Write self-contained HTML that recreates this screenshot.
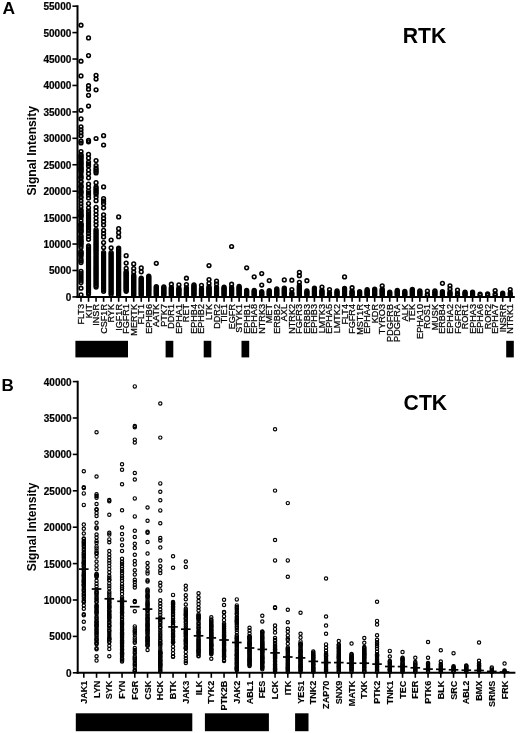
<!DOCTYPE html>
<html><head><meta charset="utf-8"><style>
html,body{margin:0;padding:0;background:#fff;}
svg{display:block;filter:grayscale(100%);}
text{font-family:"Liberation Sans", sans-serif;fill:#000;}
</style></head><body>
<svg width="520" height="733" viewBox="0 0 520 733">
<rect width="520" height="733" fill="#fff"/>
<text x="2.4" y="14.3" font-size="17.4" font-weight="bold">A</text>
<text x="402.8" y="42.8" font-size="21.2" font-weight="bold">RTK</text>
<text x="1.5" y="391.3" font-size="17" font-weight="bold">B</text>
<text x="403.6" y="409.6" font-size="21.2" font-weight="bold">CTK</text>
<text transform="translate(36.3,150.8) rotate(-90)" text-anchor="middle" font-size="12.1" font-weight="bold">Signal Intensity</text>
<text transform="translate(36.4,526.9) rotate(-90)" text-anchor="middle" font-size="12" font-weight="bold">Signal Intensity</text>
<line x1="77.5" y1="5.2" x2="77.5" y2="297.9" stroke="#000" stroke-width="2"/>
<line x1="76.5" y1="296.9" x2="514.8" y2="296.9" stroke="#000" stroke-width="2"/>
<line x1="72.4" y1="296.90" x2="77.5" y2="296.90" stroke="#000" stroke-width="1.6"/>
<text x="71.3" y="300.90" text-anchor="end" font-size="10" font-weight="bold" stroke="#000" stroke-width="0.2">0</text>
<line x1="72.4" y1="270.47" x2="77.5" y2="270.47" stroke="#000" stroke-width="1.6"/>
<text x="71.3" y="274.47" text-anchor="end" font-size="10" font-weight="bold" stroke="#000" stroke-width="0.2">5000</text>
<line x1="72.4" y1="244.04" x2="77.5" y2="244.04" stroke="#000" stroke-width="1.6"/>
<text x="71.3" y="248.04" text-anchor="end" font-size="10" font-weight="bold" stroke="#000" stroke-width="0.2">10000</text>
<line x1="72.4" y1="217.61" x2="77.5" y2="217.61" stroke="#000" stroke-width="1.6"/>
<text x="71.3" y="221.61" text-anchor="end" font-size="10" font-weight="bold" stroke="#000" stroke-width="0.2">15000</text>
<line x1="72.4" y1="191.18" x2="77.5" y2="191.18" stroke="#000" stroke-width="1.6"/>
<text x="71.3" y="195.18" text-anchor="end" font-size="10" font-weight="bold" stroke="#000" stroke-width="0.2">20000</text>
<line x1="72.4" y1="164.75" x2="77.5" y2="164.75" stroke="#000" stroke-width="1.6"/>
<text x="71.3" y="168.75" text-anchor="end" font-size="10" font-weight="bold" stroke="#000" stroke-width="0.2">25000</text>
<line x1="72.4" y1="138.32" x2="77.5" y2="138.32" stroke="#000" stroke-width="1.6"/>
<text x="71.3" y="142.32" text-anchor="end" font-size="10" font-weight="bold" stroke="#000" stroke-width="0.2">30000</text>
<line x1="72.4" y1="111.89" x2="77.5" y2="111.89" stroke="#000" stroke-width="1.6"/>
<text x="71.3" y="115.89" text-anchor="end" font-size="10" font-weight="bold" stroke="#000" stroke-width="0.2">35000</text>
<line x1="72.4" y1="85.46" x2="77.5" y2="85.46" stroke="#000" stroke-width="1.6"/>
<text x="71.3" y="89.46" text-anchor="end" font-size="10" font-weight="bold" stroke="#000" stroke-width="0.2">40000</text>
<line x1="72.4" y1="59.03" x2="77.5" y2="59.03" stroke="#000" stroke-width="1.6"/>
<text x="71.3" y="63.03" text-anchor="end" font-size="10" font-weight="bold" stroke="#000" stroke-width="0.2">45000</text>
<line x1="72.4" y1="32.60" x2="77.5" y2="32.60" stroke="#000" stroke-width="1.6"/>
<text x="71.3" y="36.60" text-anchor="end" font-size="10" font-weight="bold" stroke="#000" stroke-width="0.2">50000</text>
<line x1="72.4" y1="6.17" x2="77.5" y2="6.17" stroke="#000" stroke-width="1.6"/>
<text x="71.3" y="10.17" text-anchor="end" font-size="10" font-weight="bold" stroke="#000" stroke-width="0.2">55000</text>
<line x1="81.00" y1="296.9" x2="81.00" y2="301.8" stroke="#000" stroke-width="1.6"/>
<text transform="translate(84.00,304) rotate(-90)" text-anchor="end" font-size="9.1" stroke="#000" stroke-width="0.25">FLT3</text>
<line x1="88.53" y1="296.9" x2="88.53" y2="301.8" stroke="#000" stroke-width="1.6"/>
<text transform="translate(91.53,304) rotate(-90)" text-anchor="end" font-size="9.1" stroke="#000" stroke-width="0.25">KIT</text>
<line x1="96.06" y1="296.9" x2="96.06" y2="301.8" stroke="#000" stroke-width="1.6"/>
<text transform="translate(99.06,304) rotate(-90)" text-anchor="end" font-size="9.1" stroke="#000" stroke-width="0.25">INSR</text>
<line x1="103.59" y1="296.9" x2="103.59" y2="301.8" stroke="#000" stroke-width="1.6"/>
<text transform="translate(106.59,304) rotate(-90)" text-anchor="end" font-size="9.1" stroke="#000" stroke-width="0.25">CSF1R</text>
<line x1="111.12" y1="296.9" x2="111.12" y2="301.8" stroke="#000" stroke-width="1.6"/>
<text transform="translate(114.12,304) rotate(-90)" text-anchor="end" font-size="9.1" stroke="#000" stroke-width="0.25">RYK</text>
<line x1="118.65" y1="296.9" x2="118.65" y2="301.8" stroke="#000" stroke-width="1.6"/>
<text transform="translate(121.65,304) rotate(-90)" text-anchor="end" font-size="9.1" stroke="#000" stroke-width="0.25">IGF1R</text>
<line x1="126.18" y1="296.9" x2="126.18" y2="301.8" stroke="#000" stroke-width="1.6"/>
<text transform="translate(129.18,304) rotate(-90)" text-anchor="end" font-size="9.1" stroke="#000" stroke-width="0.25">FGFR1</text>
<line x1="133.71" y1="296.9" x2="133.71" y2="301.8" stroke="#000" stroke-width="1.6"/>
<text transform="translate(136.71,304) rotate(-90)" text-anchor="end" font-size="9.1" stroke="#000" stroke-width="0.25">MERTK</text>
<line x1="141.24" y1="296.9" x2="141.24" y2="301.8" stroke="#000" stroke-width="1.6"/>
<text transform="translate(144.24,304) rotate(-90)" text-anchor="end" font-size="9.1" stroke="#000" stroke-width="0.25">FLT1</text>
<line x1="148.77" y1="296.9" x2="148.77" y2="301.8" stroke="#000" stroke-width="1.6"/>
<text transform="translate(151.77,304) rotate(-90)" text-anchor="end" font-size="9.1" stroke="#000" stroke-width="0.25">EPHB6</text>
<line x1="156.30" y1="296.9" x2="156.30" y2="301.8" stroke="#000" stroke-width="1.6"/>
<text transform="translate(159.30,304) rotate(-90)" text-anchor="end" font-size="9.1" stroke="#000" stroke-width="0.25">AATK</text>
<line x1="163.83" y1="296.9" x2="163.83" y2="301.8" stroke="#000" stroke-width="1.6"/>
<text transform="translate(166.83,304) rotate(-90)" text-anchor="end" font-size="9.1" stroke="#000" stroke-width="0.25">PTK7</text>
<line x1="171.36" y1="296.9" x2="171.36" y2="301.8" stroke="#000" stroke-width="1.6"/>
<text transform="translate(174.36,304) rotate(-90)" text-anchor="end" font-size="9.1" stroke="#000" stroke-width="0.25">DDR1</text>
<line x1="178.89" y1="296.9" x2="178.89" y2="301.8" stroke="#000" stroke-width="1.6"/>
<text transform="translate(181.89,304) rotate(-90)" text-anchor="end" font-size="9.1" stroke="#000" stroke-width="0.25">EPHA1</text>
<line x1="186.42" y1="296.9" x2="186.42" y2="301.8" stroke="#000" stroke-width="1.6"/>
<text transform="translate(189.42,304) rotate(-90)" text-anchor="end" font-size="9.1" stroke="#000" stroke-width="0.25">RET</text>
<line x1="193.95" y1="296.9" x2="193.95" y2="301.8" stroke="#000" stroke-width="1.6"/>
<text transform="translate(196.95,304) rotate(-90)" text-anchor="end" font-size="9.1" stroke="#000" stroke-width="0.25">EPHB4</text>
<line x1="201.48" y1="296.9" x2="201.48" y2="301.8" stroke="#000" stroke-width="1.6"/>
<text transform="translate(204.48,304) rotate(-90)" text-anchor="end" font-size="9.1" stroke="#000" stroke-width="0.25">EPHB2</text>
<line x1="209.01" y1="296.9" x2="209.01" y2="301.8" stroke="#000" stroke-width="1.6"/>
<text transform="translate(212.01,304) rotate(-90)" text-anchor="end" font-size="9.1" stroke="#000" stroke-width="0.25">LTK</text>
<line x1="216.54" y1="296.9" x2="216.54" y2="301.8" stroke="#000" stroke-width="1.6"/>
<text transform="translate(219.54,304) rotate(-90)" text-anchor="end" font-size="9.1" stroke="#000" stroke-width="0.25">DDR2</text>
<line x1="224.07" y1="296.9" x2="224.07" y2="301.8" stroke="#000" stroke-width="1.6"/>
<text transform="translate(227.07,304) rotate(-90)" text-anchor="end" font-size="9.1" stroke="#000" stroke-width="0.25">TIE1</text>
<line x1="231.60" y1="296.9" x2="231.60" y2="301.8" stroke="#000" stroke-width="1.6"/>
<text transform="translate(234.60,304) rotate(-90)" text-anchor="end" font-size="9.1" stroke="#000" stroke-width="0.25">EGFR</text>
<line x1="239.13" y1="296.9" x2="239.13" y2="301.8" stroke="#000" stroke-width="1.6"/>
<text transform="translate(242.13,304) rotate(-90)" text-anchor="end" font-size="9.1" stroke="#000" stroke-width="0.25">STYK1</text>
<line x1="246.66" y1="296.9" x2="246.66" y2="301.8" stroke="#000" stroke-width="1.6"/>
<text transform="translate(249.66,304) rotate(-90)" text-anchor="end" font-size="9.1" stroke="#000" stroke-width="0.25">EPHB1</text>
<line x1="254.19" y1="296.9" x2="254.19" y2="301.8" stroke="#000" stroke-width="1.6"/>
<text transform="translate(257.19,304) rotate(-90)" text-anchor="end" font-size="9.1" stroke="#000" stroke-width="0.25">EPHA8</text>
<line x1="261.72" y1="296.9" x2="261.72" y2="301.8" stroke="#000" stroke-width="1.6"/>
<text transform="translate(264.72,304) rotate(-90)" text-anchor="end" font-size="9.1" stroke="#000" stroke-width="0.25">NTRK3</text>
<line x1="269.25" y1="296.9" x2="269.25" y2="301.8" stroke="#000" stroke-width="1.6"/>
<text transform="translate(272.25,304) rotate(-90)" text-anchor="end" font-size="9.1" stroke="#000" stroke-width="0.25">MET</text>
<line x1="276.78" y1="296.9" x2="276.78" y2="301.8" stroke="#000" stroke-width="1.6"/>
<text transform="translate(279.78,304) rotate(-90)" text-anchor="end" font-size="9.1" stroke="#000" stroke-width="0.25">ERBB2</text>
<line x1="284.31" y1="296.9" x2="284.31" y2="301.8" stroke="#000" stroke-width="1.6"/>
<text transform="translate(287.31,304) rotate(-90)" text-anchor="end" font-size="9.1" stroke="#000" stroke-width="0.25">AXL</text>
<line x1="291.84" y1="296.9" x2="291.84" y2="301.8" stroke="#000" stroke-width="1.6"/>
<text transform="translate(294.84,304) rotate(-90)" text-anchor="end" font-size="9.1" stroke="#000" stroke-width="0.25">NTRK2</text>
<line x1="299.37" y1="296.9" x2="299.37" y2="301.8" stroke="#000" stroke-width="1.6"/>
<text transform="translate(302.37,304) rotate(-90)" text-anchor="end" font-size="9.1" stroke="#000" stroke-width="0.25">FGFR3</text>
<line x1="306.90" y1="296.9" x2="306.90" y2="301.8" stroke="#000" stroke-width="1.6"/>
<text transform="translate(309.90,304) rotate(-90)" text-anchor="end" font-size="9.1" stroke="#000" stroke-width="0.25">ERBB3</text>
<line x1="314.43" y1="296.9" x2="314.43" y2="301.8" stroke="#000" stroke-width="1.6"/>
<text transform="translate(317.43,304) rotate(-90)" text-anchor="end" font-size="9.1" stroke="#000" stroke-width="0.25">EPHB3</text>
<line x1="321.96" y1="296.9" x2="321.96" y2="301.8" stroke="#000" stroke-width="1.6"/>
<text transform="translate(324.96,304) rotate(-90)" text-anchor="end" font-size="9.1" stroke="#000" stroke-width="0.25">LMTK3</text>
<line x1="329.49" y1="296.9" x2="329.49" y2="301.8" stroke="#000" stroke-width="1.6"/>
<text transform="translate(332.49,304) rotate(-90)" text-anchor="end" font-size="9.1" stroke="#000" stroke-width="0.25">EPHA5</text>
<line x1="337.02" y1="296.9" x2="337.02" y2="301.8" stroke="#000" stroke-width="1.6"/>
<text transform="translate(340.02,304) rotate(-90)" text-anchor="end" font-size="9.1" stroke="#000" stroke-width="0.25">LMTK2</text>
<line x1="344.55" y1="296.9" x2="344.55" y2="301.8" stroke="#000" stroke-width="1.6"/>
<text transform="translate(347.55,304) rotate(-90)" text-anchor="end" font-size="9.1" stroke="#000" stroke-width="0.25">FLT4</text>
<line x1="352.08" y1="296.9" x2="352.08" y2="301.8" stroke="#000" stroke-width="1.6"/>
<text transform="translate(355.08,304) rotate(-90)" text-anchor="end" font-size="9.1" stroke="#000" stroke-width="0.25">FGFR4</text>
<line x1="359.61" y1="296.9" x2="359.61" y2="301.8" stroke="#000" stroke-width="1.6"/>
<text transform="translate(362.61,304) rotate(-90)" text-anchor="end" font-size="9.1" stroke="#000" stroke-width="0.25">MST1R</text>
<line x1="367.14" y1="296.9" x2="367.14" y2="301.8" stroke="#000" stroke-width="1.6"/>
<text transform="translate(370.14,304) rotate(-90)" text-anchor="end" font-size="9.1" stroke="#000" stroke-width="0.25">EPHA4</text>
<line x1="374.67" y1="296.9" x2="374.67" y2="301.8" stroke="#000" stroke-width="1.6"/>
<text transform="translate(377.67,304) rotate(-90)" text-anchor="end" font-size="9.1" stroke="#000" stroke-width="0.25">KDR</text>
<line x1="382.20" y1="296.9" x2="382.20" y2="301.8" stroke="#000" stroke-width="1.6"/>
<text transform="translate(385.20,304) rotate(-90)" text-anchor="end" font-size="9.1" stroke="#000" stroke-width="0.25">TYRO3</text>
<line x1="389.73" y1="296.9" x2="389.73" y2="301.8" stroke="#000" stroke-width="1.6"/>
<text transform="translate(392.73,304) rotate(-90)" text-anchor="end" font-size="9.1" stroke="#000" stroke-width="0.25">PDGFRB</text>
<line x1="397.26" y1="296.9" x2="397.26" y2="301.8" stroke="#000" stroke-width="1.6"/>
<text transform="translate(400.26,304) rotate(-90)" text-anchor="end" font-size="9.1" stroke="#000" stroke-width="0.25">PDGFRA</text>
<line x1="404.79" y1="296.9" x2="404.79" y2="301.8" stroke="#000" stroke-width="1.6"/>
<text transform="translate(407.79,304) rotate(-90)" text-anchor="end" font-size="9.1" stroke="#000" stroke-width="0.25">ALK</text>
<line x1="412.32" y1="296.9" x2="412.32" y2="301.8" stroke="#000" stroke-width="1.6"/>
<text transform="translate(415.32,304) rotate(-90)" text-anchor="end" font-size="9.1" stroke="#000" stroke-width="0.25">TEK</text>
<line x1="419.85" y1="296.9" x2="419.85" y2="301.8" stroke="#000" stroke-width="1.6"/>
<text transform="translate(422.85,304) rotate(-90)" text-anchor="end" font-size="9.1" stroke="#000" stroke-width="0.25">EPHA10</text>
<line x1="427.38" y1="296.9" x2="427.38" y2="301.8" stroke="#000" stroke-width="1.6"/>
<text transform="translate(430.38,304) rotate(-90)" text-anchor="end" font-size="9.1" stroke="#000" stroke-width="0.25">ROS1</text>
<line x1="434.91" y1="296.9" x2="434.91" y2="301.8" stroke="#000" stroke-width="1.6"/>
<text transform="translate(437.91,304) rotate(-90)" text-anchor="end" font-size="9.1" stroke="#000" stroke-width="0.25">MUSK</text>
<line x1="442.44" y1="296.9" x2="442.44" y2="301.8" stroke="#000" stroke-width="1.6"/>
<text transform="translate(445.44,304) rotate(-90)" text-anchor="end" font-size="9.1" stroke="#000" stroke-width="0.25">ERBB4</text>
<line x1="449.97" y1="296.9" x2="449.97" y2="301.8" stroke="#000" stroke-width="1.6"/>
<text transform="translate(452.97,304) rotate(-90)" text-anchor="end" font-size="9.1" stroke="#000" stroke-width="0.25">EPHA2</text>
<line x1="457.50" y1="296.9" x2="457.50" y2="301.8" stroke="#000" stroke-width="1.6"/>
<text transform="translate(460.50,304) rotate(-90)" text-anchor="end" font-size="9.1" stroke="#000" stroke-width="0.25">FGFR2</text>
<line x1="465.03" y1="296.9" x2="465.03" y2="301.8" stroke="#000" stroke-width="1.6"/>
<text transform="translate(468.03,304) rotate(-90)" text-anchor="end" font-size="9.1" stroke="#000" stroke-width="0.25">ROR1</text>
<line x1="472.56" y1="296.9" x2="472.56" y2="301.8" stroke="#000" stroke-width="1.6"/>
<text transform="translate(475.56,304) rotate(-90)" text-anchor="end" font-size="9.1" stroke="#000" stroke-width="0.25">EPHA3</text>
<line x1="480.09" y1="296.9" x2="480.09" y2="301.8" stroke="#000" stroke-width="1.6"/>
<text transform="translate(483.09,304) rotate(-90)" text-anchor="end" font-size="9.1" stroke="#000" stroke-width="0.25">EPHA6</text>
<line x1="487.62" y1="296.9" x2="487.62" y2="301.8" stroke="#000" stroke-width="1.6"/>
<text transform="translate(490.62,304) rotate(-90)" text-anchor="end" font-size="9.1" stroke="#000" stroke-width="0.25">ROR2</text>
<line x1="495.15" y1="296.9" x2="495.15" y2="301.8" stroke="#000" stroke-width="1.6"/>
<text transform="translate(498.15,304) rotate(-90)" text-anchor="end" font-size="9.1" stroke="#000" stroke-width="0.25">EPHA7</text>
<line x1="502.68" y1="296.9" x2="502.68" y2="301.8" stroke="#000" stroke-width="1.6"/>
<text transform="translate(505.68,304) rotate(-90)" text-anchor="end" font-size="9.1" stroke="#000" stroke-width="0.25">INSRR</text>
<line x1="510.21" y1="296.9" x2="510.21" y2="301.8" stroke="#000" stroke-width="1.6"/>
<text transform="translate(513.21,304) rotate(-90)" text-anchor="end" font-size="9.1" stroke="#000" stroke-width="0.25">NTRK1</text>
<g fill="none" stroke="#000" stroke-width="1.55">
<circle cx="81.00" cy="25.20" r="1.85"/>
<circle cx="81.00" cy="61.20" r="1.85"/>
<circle cx="81.00" cy="75.90" r="1.85"/>
<circle cx="81.00" cy="110.30" r="1.85"/>
<circle cx="81.00" cy="118.90" r="1.85"/>
<circle cx="81.00" cy="126.80" r="1.85"/>
<circle cx="81.00" cy="129.80" r="1.85"/>
<circle cx="81.00" cy="132.80" r="1.85"/>
<circle cx="81.00" cy="135.80" r="1.85"/>
<circle cx="81.00" cy="141.20" r="1.85"/>
<circle cx="81.00" cy="143.00" r="1.85"/>
<circle cx="81.00" cy="151.50" r="1.85"/>
<circle cx="81.00" cy="154.50" r="1.85"/>
<circle cx="81.00" cy="155.50" r="1.85"/>
<circle cx="81.00" cy="156.80" r="1.85"/>
<circle cx="81.00" cy="157.80" r="1.85"/>
<circle cx="81.00" cy="159.40" r="1.85"/>
<circle cx="81.00" cy="161.00" r="1.85"/>
<circle cx="81.00" cy="162.40" r="1.85"/>
<circle cx="81.00" cy="163.70" r="1.85"/>
<circle cx="81.00" cy="165.10" r="1.85"/>
<circle cx="81.00" cy="166.70" r="1.85"/>
<circle cx="81.00" cy="168.10" r="1.85"/>
<circle cx="81.00" cy="168.90" r="1.85"/>
<circle cx="81.00" cy="170.10" r="1.85"/>
<circle cx="81.00" cy="171.10" r="1.85"/>
<circle cx="81.00" cy="172.70" r="1.85"/>
<circle cx="81.00" cy="175.70" r="1.85"/>
<circle cx="81.00" cy="177.30" r="1.85"/>
<circle cx="81.00" cy="178.30" r="1.85"/>
<circle cx="81.00" cy="181.30" r="1.85"/>
<circle cx="81.00" cy="182.30" r="1.85"/>
<circle cx="81.00" cy="185.30" r="1.85"/>
<circle cx="81.00" cy="186.50" r="1.85"/>
<circle cx="81.00" cy="187.70" r="1.85"/>
<circle cx="81.00" cy="190.70" r="1.85"/>
<circle cx="81.00" cy="192.00" r="1.85"/>
<circle cx="81.00" cy="193.40" r="1.85"/>
<circle cx="81.00" cy="196.40" r="1.85"/>
<circle cx="81.00" cy="197.80" r="1.85"/>
<circle cx="81.00" cy="200.80" r="1.85"/>
<circle cx="81.00" cy="203.80" r="1.85"/>
<circle cx="81.00" cy="206.80" r="1.85"/>
<circle cx="81.00" cy="209.80" r="1.85"/>
<circle cx="81.00" cy="211.10" r="1.85"/>
<circle cx="81.00" cy="212.70" r="1.85"/>
<circle cx="81.00" cy="214.30" r="1.85"/>
<circle cx="81.00" cy="215.30" r="1.85"/>
<circle cx="81.00" cy="216.10" r="1.85"/>
<circle cx="81.00" cy="217.40" r="1.85"/>
<circle cx="81.00" cy="220.40" r="1.85"/>
<circle cx="81.00" cy="223.40" r="1.85"/>
<circle cx="81.00" cy="224.40" r="1.85"/>
<circle cx="81.00" cy="225.20" r="1.85"/>
<circle cx="81.00" cy="226.20" r="1.85"/>
<circle cx="81.00" cy="227.40" r="1.85"/>
<circle cx="81.00" cy="229.00" r="1.85"/>
<circle cx="81.00" cy="230.40" r="1.85"/>
<circle cx="81.00" cy="231.20" r="1.85"/>
<circle cx="81.00" cy="232.50" r="1.85"/>
<circle cx="81.00" cy="235.50" r="1.85"/>
<circle cx="81.00" cy="236.80" r="1.85"/>
<circle cx="81.00" cy="238.40" r="1.85"/>
<circle cx="81.00" cy="240.00" r="1.85"/>
<circle cx="81.00" cy="241.20" r="1.85"/>
<circle cx="81.00" cy="242.40" r="1.85"/>
<circle cx="81.00" cy="243.80" r="1.85"/>
<circle cx="81.00" cy="245.20" r="1.85"/>
<circle cx="81.00" cy="247.30" r="1.85"/>
<circle cx="81.00" cy="251.40" r="1.85"/>
<circle cx="81.00" cy="252.40" r="1.85"/>
<circle cx="81.00" cy="253.70" r="1.85"/>
<circle cx="81.00" cy="254.70" r="1.85"/>
<circle cx="81.00" cy="256.20" r="1.85"/>
<circle cx="81.00" cy="259.20" r="1.85"/>
<circle cx="81.00" cy="260.80" r="1.85"/>
<circle cx="81.00" cy="262.60" r="1.85"/>
<circle cx="81.00" cy="271.30" r="1.85"/>
<circle cx="81.00" cy="273.60" r="1.85"/>
<circle cx="81.00" cy="275.85" r="1.85"/>
<circle cx="81.00" cy="278.10" r="1.85"/>
<circle cx="81.00" cy="280.35" r="1.85"/>
<circle cx="81.00" cy="282.60" r="1.85"/>
<circle cx="81.00" cy="288.20" r="1.85"/>
<circle cx="81.00" cy="294.80" r="1.85"/>
<circle cx="88.53" cy="37.90" r="1.85"/>
<circle cx="88.53" cy="55.60" r="1.85"/>
<circle cx="88.53" cy="85.70" r="1.85"/>
<circle cx="88.53" cy="89.20" r="1.85"/>
<circle cx="88.53" cy="95.30" r="1.85"/>
<circle cx="88.53" cy="106.00" r="1.85"/>
<circle cx="88.53" cy="140.40" r="1.85"/>
<circle cx="88.53" cy="141.80" r="1.85"/>
<circle cx="88.53" cy="154.40" r="1.85"/>
<circle cx="88.53" cy="158.10" r="1.85"/>
<circle cx="88.53" cy="162.00" r="1.85"/>
<circle cx="88.53" cy="164.00" r="1.85"/>
<circle cx="88.53" cy="166.00" r="1.85"/>
<circle cx="88.53" cy="170.00" r="1.85"/>
<circle cx="88.53" cy="173.70" r="1.85"/>
<circle cx="88.53" cy="177.80" r="1.85"/>
<circle cx="88.53" cy="184.00" r="1.85"/>
<circle cx="88.53" cy="187.60" r="1.85"/>
<circle cx="88.53" cy="191.00" r="1.85"/>
<circle cx="88.53" cy="193.00" r="1.85"/>
<circle cx="88.53" cy="195.00" r="1.85"/>
<circle cx="88.53" cy="198.00" r="1.85"/>
<circle cx="88.53" cy="203.60" r="1.85"/>
<circle cx="88.53" cy="207.80" r="1.85"/>
<circle cx="88.53" cy="211.00" r="1.85"/>
<circle cx="88.53" cy="212.55" r="1.85"/>
<circle cx="88.53" cy="214.09" r="1.85"/>
<circle cx="88.53" cy="215.64" r="1.85"/>
<circle cx="88.53" cy="217.18" r="1.85"/>
<circle cx="88.53" cy="218.73" r="1.85"/>
<circle cx="88.53" cy="220.28" r="1.85"/>
<circle cx="88.53" cy="221.82" r="1.85"/>
<circle cx="88.53" cy="223.37" r="1.85"/>
<circle cx="88.53" cy="224.92" r="1.85"/>
<circle cx="88.53" cy="226.46" r="1.85"/>
<circle cx="88.53" cy="228.01" r="1.85"/>
<circle cx="88.53" cy="229.55" r="1.85"/>
<circle cx="88.53" cy="231.10" r="1.85"/>
<circle cx="88.53" cy="233.60" r="1.85"/>
<circle cx="88.53" cy="236.50" r="1.85"/>
<circle cx="88.53" cy="239.30" r="1.85"/>
<circle cx="88.53" cy="245.90" r="1.85"/>
<circle cx="88.53" cy="247.40" r="1.85"/>
<circle cx="88.53" cy="248.91" r="1.85"/>
<circle cx="88.53" cy="250.41" r="1.85"/>
<circle cx="88.53" cy="251.91" r="1.85"/>
<circle cx="88.53" cy="253.42" r="1.85"/>
<circle cx="88.53" cy="254.92" r="1.85"/>
<circle cx="88.53" cy="256.42" r="1.85"/>
<circle cx="88.53" cy="257.93" r="1.85"/>
<circle cx="88.53" cy="259.43" r="1.85"/>
<circle cx="88.53" cy="260.93" r="1.85"/>
<circle cx="88.53" cy="262.43" r="1.85"/>
<circle cx="88.53" cy="263.94" r="1.85"/>
<circle cx="88.53" cy="265.44" r="1.85"/>
<circle cx="88.53" cy="266.94" r="1.85"/>
<circle cx="88.53" cy="268.45" r="1.85"/>
<circle cx="88.53" cy="269.95" r="1.85"/>
<circle cx="88.53" cy="271.45" r="1.85"/>
<circle cx="88.53" cy="272.96" r="1.85"/>
<circle cx="88.53" cy="274.46" r="1.85"/>
<circle cx="88.53" cy="275.96" r="1.85"/>
<circle cx="88.53" cy="277.47" r="1.85"/>
<circle cx="88.53" cy="278.97" r="1.85"/>
<circle cx="88.53" cy="280.47" r="1.85"/>
<circle cx="88.53" cy="281.98" r="1.85"/>
<circle cx="88.53" cy="283.48" r="1.85"/>
<circle cx="88.53" cy="284.98" r="1.85"/>
<circle cx="88.53" cy="286.48" r="1.85"/>
<circle cx="88.53" cy="287.99" r="1.85"/>
<circle cx="88.53" cy="289.49" r="1.85"/>
<circle cx="88.53" cy="290.99" r="1.85"/>
<circle cx="88.53" cy="292.50" r="1.85"/>
<circle cx="88.53" cy="294.00" r="1.85"/>
<circle cx="96.06" cy="75.30" r="1.85"/>
<circle cx="96.06" cy="79.00" r="1.85"/>
<circle cx="96.06" cy="89.80" r="1.85"/>
<circle cx="96.06" cy="138.50" r="1.85"/>
<circle cx="96.06" cy="160.60" r="1.85"/>
<circle cx="96.06" cy="165.50" r="1.85"/>
<circle cx="96.06" cy="168.00" r="1.85"/>
<circle cx="96.06" cy="169.63" r="1.85"/>
<circle cx="96.06" cy="171.27" r="1.85"/>
<circle cx="96.06" cy="172.90" r="1.85"/>
<circle cx="96.06" cy="182.70" r="1.85"/>
<circle cx="96.06" cy="186.80" r="1.85"/>
<circle cx="96.06" cy="188.28" r="1.85"/>
<circle cx="96.06" cy="189.76" r="1.85"/>
<circle cx="96.06" cy="191.24" r="1.85"/>
<circle cx="96.06" cy="192.72" r="1.85"/>
<circle cx="96.06" cy="194.20" r="1.85"/>
<circle cx="96.06" cy="197.00" r="1.85"/>
<circle cx="96.06" cy="200.70" r="1.85"/>
<circle cx="96.06" cy="207.40" r="1.85"/>
<circle cx="96.06" cy="210.90" r="1.85"/>
<circle cx="96.06" cy="214.50" r="1.85"/>
<circle cx="96.06" cy="218.00" r="1.85"/>
<circle cx="96.06" cy="221.70" r="1.85"/>
<circle cx="96.06" cy="225.00" r="1.85"/>
<circle cx="96.06" cy="229.50" r="1.85"/>
<circle cx="96.06" cy="231.02" r="1.85"/>
<circle cx="96.06" cy="232.53" r="1.85"/>
<circle cx="96.06" cy="234.05" r="1.85"/>
<circle cx="96.06" cy="235.56" r="1.85"/>
<circle cx="96.06" cy="237.08" r="1.85"/>
<circle cx="96.06" cy="238.59" r="1.85"/>
<circle cx="96.06" cy="240.11" r="1.85"/>
<circle cx="96.06" cy="241.63" r="1.85"/>
<circle cx="96.06" cy="243.14" r="1.85"/>
<circle cx="96.06" cy="244.66" r="1.85"/>
<circle cx="96.06" cy="246.17" r="1.85"/>
<circle cx="96.06" cy="247.69" r="1.85"/>
<circle cx="96.06" cy="249.21" r="1.85"/>
<circle cx="96.06" cy="250.72" r="1.85"/>
<circle cx="96.06" cy="252.24" r="1.85"/>
<circle cx="96.06" cy="253.75" r="1.85"/>
<circle cx="96.06" cy="255.27" r="1.85"/>
<circle cx="96.06" cy="256.78" r="1.85"/>
<circle cx="96.06" cy="258.30" r="1.85"/>
<circle cx="96.06" cy="259.82" r="1.85"/>
<circle cx="96.06" cy="261.33" r="1.85"/>
<circle cx="96.06" cy="262.85" r="1.85"/>
<circle cx="96.06" cy="264.36" r="1.85"/>
<circle cx="96.06" cy="265.88" r="1.85"/>
<circle cx="96.06" cy="267.39" r="1.85"/>
<circle cx="96.06" cy="268.91" r="1.85"/>
<circle cx="96.06" cy="270.43" r="1.85"/>
<circle cx="96.06" cy="271.94" r="1.85"/>
<circle cx="96.06" cy="273.46" r="1.85"/>
<circle cx="96.06" cy="274.97" r="1.85"/>
<circle cx="96.06" cy="276.49" r="1.85"/>
<circle cx="96.06" cy="278.01" r="1.85"/>
<circle cx="96.06" cy="279.52" r="1.85"/>
<circle cx="96.06" cy="281.04" r="1.85"/>
<circle cx="96.06" cy="282.55" r="1.85"/>
<circle cx="96.06" cy="284.07" r="1.85"/>
<circle cx="96.06" cy="285.58" r="1.85"/>
<circle cx="96.06" cy="287.10" r="1.85"/>
<circle cx="103.59" cy="135.70" r="1.85"/>
<circle cx="103.59" cy="145.00" r="1.85"/>
<circle cx="103.59" cy="186.90" r="1.85"/>
<circle cx="103.59" cy="198.70" r="1.85"/>
<circle cx="103.59" cy="201.20" r="1.85"/>
<circle cx="103.59" cy="203.70" r="1.85"/>
<circle cx="103.59" cy="207.80" r="1.85"/>
<circle cx="103.59" cy="214.80" r="1.85"/>
<circle cx="103.59" cy="218.30" r="1.85"/>
<circle cx="103.59" cy="221.70" r="1.85"/>
<circle cx="103.59" cy="225.00" r="1.85"/>
<circle cx="103.59" cy="230.30" r="1.85"/>
<circle cx="103.59" cy="233.60" r="1.85"/>
<circle cx="103.59" cy="236.90" r="1.85"/>
<circle cx="103.59" cy="242.60" r="1.85"/>
<circle cx="103.59" cy="247.50" r="1.85"/>
<circle cx="103.59" cy="252.50" r="1.85"/>
<circle cx="103.59" cy="253.99" r="1.85"/>
<circle cx="103.59" cy="255.48" r="1.85"/>
<circle cx="103.59" cy="256.98" r="1.85"/>
<circle cx="103.59" cy="258.47" r="1.85"/>
<circle cx="103.59" cy="259.96" r="1.85"/>
<circle cx="103.59" cy="261.45" r="1.85"/>
<circle cx="103.59" cy="262.95" r="1.85"/>
<circle cx="103.59" cy="264.44" r="1.85"/>
<circle cx="103.59" cy="265.93" r="1.85"/>
<circle cx="103.59" cy="267.42" r="1.85"/>
<circle cx="103.59" cy="268.92" r="1.85"/>
<circle cx="103.59" cy="270.41" r="1.85"/>
<circle cx="103.59" cy="271.90" r="1.85"/>
<circle cx="103.59" cy="273.39" r="1.85"/>
<circle cx="103.59" cy="274.88" r="1.85"/>
<circle cx="103.59" cy="276.38" r="1.85"/>
<circle cx="103.59" cy="277.87" r="1.85"/>
<circle cx="103.59" cy="279.36" r="1.85"/>
<circle cx="103.59" cy="280.85" r="1.85"/>
<circle cx="103.59" cy="282.35" r="1.85"/>
<circle cx="103.59" cy="283.84" r="1.85"/>
<circle cx="103.59" cy="285.33" r="1.85"/>
<circle cx="103.59" cy="286.82" r="1.85"/>
<circle cx="103.59" cy="288.32" r="1.85"/>
<circle cx="103.59" cy="289.81" r="1.85"/>
<circle cx="103.59" cy="291.30" r="1.85"/>
<circle cx="111.12" cy="240.00" r="1.85"/>
<circle cx="111.12" cy="247.80" r="1.85"/>
<circle cx="111.12" cy="252.50" r="1.85"/>
<circle cx="111.12" cy="253.99" r="1.85"/>
<circle cx="111.12" cy="255.49" r="1.85"/>
<circle cx="111.12" cy="256.98" r="1.85"/>
<circle cx="111.12" cy="258.47" r="1.85"/>
<circle cx="111.12" cy="259.96" r="1.85"/>
<circle cx="111.12" cy="261.46" r="1.85"/>
<circle cx="111.12" cy="262.95" r="1.85"/>
<circle cx="111.12" cy="264.44" r="1.85"/>
<circle cx="111.12" cy="265.94" r="1.85"/>
<circle cx="111.12" cy="267.43" r="1.85"/>
<circle cx="111.12" cy="268.92" r="1.85"/>
<circle cx="111.12" cy="270.41" r="1.85"/>
<circle cx="111.12" cy="271.91" r="1.85"/>
<circle cx="111.12" cy="273.40" r="1.85"/>
<circle cx="111.12" cy="274.89" r="1.85"/>
<circle cx="111.12" cy="276.39" r="1.85"/>
<circle cx="111.12" cy="277.88" r="1.85"/>
<circle cx="111.12" cy="279.37" r="1.85"/>
<circle cx="111.12" cy="280.86" r="1.85"/>
<circle cx="111.12" cy="282.36" r="1.85"/>
<circle cx="111.12" cy="283.85" r="1.85"/>
<circle cx="111.12" cy="285.34" r="1.85"/>
<circle cx="111.12" cy="286.84" r="1.85"/>
<circle cx="111.12" cy="288.33" r="1.85"/>
<circle cx="111.12" cy="289.82" r="1.85"/>
<circle cx="111.12" cy="291.31" r="1.85"/>
<circle cx="111.12" cy="292.81" r="1.85"/>
<circle cx="111.12" cy="294.30" r="1.85"/>
<circle cx="118.65" cy="216.90" r="1.85"/>
<circle cx="118.65" cy="228.70" r="1.85"/>
<circle cx="118.65" cy="232.70" r="1.85"/>
<circle cx="118.65" cy="236.70" r="1.85"/>
<circle cx="118.65" cy="248.00" r="1.85"/>
<circle cx="118.65" cy="249.48" r="1.85"/>
<circle cx="118.65" cy="250.96" r="1.85"/>
<circle cx="118.65" cy="252.43" r="1.85"/>
<circle cx="118.65" cy="253.91" r="1.85"/>
<circle cx="118.65" cy="255.39" r="1.85"/>
<circle cx="118.65" cy="256.87" r="1.85"/>
<circle cx="118.65" cy="258.35" r="1.85"/>
<circle cx="118.65" cy="259.82" r="1.85"/>
<circle cx="118.65" cy="261.30" r="1.85"/>
<circle cx="118.65" cy="262.78" r="1.85"/>
<circle cx="118.65" cy="264.26" r="1.85"/>
<circle cx="118.65" cy="265.74" r="1.85"/>
<circle cx="118.65" cy="267.22" r="1.85"/>
<circle cx="118.65" cy="268.69" r="1.85"/>
<circle cx="118.65" cy="270.17" r="1.85"/>
<circle cx="118.65" cy="271.65" r="1.85"/>
<circle cx="118.65" cy="273.13" r="1.85"/>
<circle cx="118.65" cy="274.61" r="1.85"/>
<circle cx="118.65" cy="276.08" r="1.85"/>
<circle cx="118.65" cy="277.56" r="1.85"/>
<circle cx="118.65" cy="279.04" r="1.85"/>
<circle cx="118.65" cy="280.52" r="1.85"/>
<circle cx="118.65" cy="282.00" r="1.85"/>
<circle cx="118.65" cy="283.48" r="1.85"/>
<circle cx="118.65" cy="284.95" r="1.85"/>
<circle cx="118.65" cy="286.43" r="1.85"/>
<circle cx="118.65" cy="287.91" r="1.85"/>
<circle cx="118.65" cy="289.39" r="1.85"/>
<circle cx="118.65" cy="290.87" r="1.85"/>
<circle cx="118.65" cy="292.34" r="1.85"/>
<circle cx="118.65" cy="293.82" r="1.85"/>
<circle cx="118.65" cy="295.30" r="1.85"/>
<circle cx="126.18" cy="255.70" r="1.85"/>
<circle cx="126.18" cy="263.10" r="1.85"/>
<circle cx="126.18" cy="268.40" r="1.85"/>
<circle cx="126.18" cy="271.70" r="1.85"/>
<circle cx="126.18" cy="272.68" r="1.85"/>
<circle cx="126.18" cy="273.66" r="1.85"/>
<circle cx="126.18" cy="274.64" r="1.85"/>
<circle cx="126.18" cy="275.62" r="1.85"/>
<circle cx="126.18" cy="276.60" r="1.85"/>
<circle cx="126.18" cy="277.58" r="1.85"/>
<circle cx="126.18" cy="278.56" r="1.85"/>
<circle cx="126.18" cy="279.54" r="1.85"/>
<circle cx="126.18" cy="280.52" r="1.85"/>
<circle cx="126.18" cy="281.50" r="1.85"/>
<circle cx="126.18" cy="282.48" r="1.85"/>
<circle cx="126.18" cy="283.46" r="1.85"/>
<circle cx="126.18" cy="284.44" r="1.85"/>
<circle cx="126.18" cy="285.42" r="1.85"/>
<circle cx="126.18" cy="286.40" r="1.85"/>
<circle cx="126.18" cy="287.38" r="1.85"/>
<circle cx="126.18" cy="288.36" r="1.85"/>
<circle cx="126.18" cy="289.34" r="1.85"/>
<circle cx="126.18" cy="290.32" r="1.85"/>
<circle cx="126.18" cy="291.30" r="1.85"/>
<circle cx="133.71" cy="263.90" r="1.85"/>
<circle cx="133.71" cy="268.50" r="1.85"/>
<circle cx="133.71" cy="272.00" r="1.85"/>
<circle cx="133.71" cy="275.30" r="1.85"/>
<circle cx="133.71" cy="276.30" r="1.85"/>
<circle cx="133.71" cy="277.30" r="1.85"/>
<circle cx="133.71" cy="278.30" r="1.85"/>
<circle cx="133.71" cy="279.30" r="1.85"/>
<circle cx="133.71" cy="280.30" r="1.85"/>
<circle cx="133.71" cy="281.30" r="1.85"/>
<circle cx="133.71" cy="282.30" r="1.85"/>
<circle cx="133.71" cy="283.30" r="1.85"/>
<circle cx="133.71" cy="284.30" r="1.85"/>
<circle cx="133.71" cy="285.30" r="1.85"/>
<circle cx="133.71" cy="286.30" r="1.85"/>
<circle cx="133.71" cy="287.30" r="1.85"/>
<circle cx="133.71" cy="288.30" r="1.85"/>
<circle cx="133.71" cy="289.30" r="1.85"/>
<circle cx="133.71" cy="290.30" r="1.85"/>
<circle cx="133.71" cy="291.30" r="1.85"/>
<circle cx="133.71" cy="292.30" r="1.85"/>
<circle cx="133.71" cy="293.30" r="1.85"/>
<circle cx="133.71" cy="294.30" r="1.85"/>
<circle cx="133.71" cy="295.30" r="1.85"/>
<circle cx="141.24" cy="267.90" r="1.85"/>
<circle cx="141.24" cy="271.80" r="1.85"/>
<circle cx="141.24" cy="278.00" r="1.85"/>
<circle cx="141.24" cy="279.02" r="1.85"/>
<circle cx="141.24" cy="280.04" r="1.85"/>
<circle cx="141.24" cy="281.05" r="1.85"/>
<circle cx="141.24" cy="282.07" r="1.85"/>
<circle cx="141.24" cy="283.09" r="1.85"/>
<circle cx="141.24" cy="284.11" r="1.85"/>
<circle cx="141.24" cy="285.12" r="1.85"/>
<circle cx="141.24" cy="286.14" r="1.85"/>
<circle cx="141.24" cy="287.16" r="1.85"/>
<circle cx="141.24" cy="288.18" r="1.85"/>
<circle cx="141.24" cy="289.19" r="1.85"/>
<circle cx="141.24" cy="290.21" r="1.85"/>
<circle cx="141.24" cy="291.23" r="1.85"/>
<circle cx="141.24" cy="292.25" r="1.85"/>
<circle cx="141.24" cy="293.26" r="1.85"/>
<circle cx="141.24" cy="294.28" r="1.85"/>
<circle cx="141.24" cy="295.30" r="1.85"/>
<circle cx="148.77" cy="276.00" r="1.85"/>
<circle cx="148.77" cy="277.02" r="1.85"/>
<circle cx="148.77" cy="278.03" r="1.85"/>
<circle cx="148.77" cy="279.05" r="1.85"/>
<circle cx="148.77" cy="280.06" r="1.85"/>
<circle cx="148.77" cy="281.08" r="1.85"/>
<circle cx="148.77" cy="282.09" r="1.85"/>
<circle cx="148.77" cy="283.11" r="1.85"/>
<circle cx="148.77" cy="284.13" r="1.85"/>
<circle cx="148.77" cy="285.14" r="1.85"/>
<circle cx="148.77" cy="286.16" r="1.85"/>
<circle cx="148.77" cy="287.17" r="1.85"/>
<circle cx="148.77" cy="288.19" r="1.85"/>
<circle cx="148.77" cy="289.21" r="1.85"/>
<circle cx="148.77" cy="290.22" r="1.85"/>
<circle cx="148.77" cy="291.24" r="1.85"/>
<circle cx="148.77" cy="292.25" r="1.85"/>
<circle cx="148.77" cy="293.27" r="1.85"/>
<circle cx="148.77" cy="294.28" r="1.85"/>
<circle cx="148.77" cy="295.30" r="1.85"/>
<circle cx="156.30" cy="263.30" r="1.85"/>
<circle cx="156.30" cy="286.50" r="1.85"/>
<circle cx="156.30" cy="287.48" r="1.85"/>
<circle cx="156.30" cy="288.46" r="1.85"/>
<circle cx="156.30" cy="289.43" r="1.85"/>
<circle cx="156.30" cy="290.41" r="1.85"/>
<circle cx="156.30" cy="291.39" r="1.85"/>
<circle cx="156.30" cy="292.37" r="1.85"/>
<circle cx="156.30" cy="293.34" r="1.85"/>
<circle cx="156.30" cy="294.32" r="1.85"/>
<circle cx="156.30" cy="295.30" r="1.85"/>
<circle cx="163.83" cy="286.80" r="1.85"/>
<circle cx="163.83" cy="287.86" r="1.85"/>
<circle cx="163.83" cy="288.93" r="1.85"/>
<circle cx="163.83" cy="289.99" r="1.85"/>
<circle cx="163.83" cy="291.05" r="1.85"/>
<circle cx="163.83" cy="292.11" r="1.85"/>
<circle cx="163.83" cy="293.18" r="1.85"/>
<circle cx="163.83" cy="294.24" r="1.85"/>
<circle cx="163.83" cy="295.30" r="1.85"/>
<circle cx="171.36" cy="284.20" r="1.85"/>
<circle cx="171.36" cy="287.50" r="1.85"/>
<circle cx="171.36" cy="288.48" r="1.85"/>
<circle cx="171.36" cy="289.45" r="1.85"/>
<circle cx="171.36" cy="290.43" r="1.85"/>
<circle cx="171.36" cy="291.40" r="1.85"/>
<circle cx="171.36" cy="292.38" r="1.85"/>
<circle cx="171.36" cy="293.35" r="1.85"/>
<circle cx="171.36" cy="294.32" r="1.85"/>
<circle cx="171.36" cy="295.30" r="1.85"/>
<circle cx="178.89" cy="284.90" r="1.85"/>
<circle cx="178.89" cy="288.20" r="1.85"/>
<circle cx="178.89" cy="289.21" r="1.85"/>
<circle cx="178.89" cy="290.23" r="1.85"/>
<circle cx="178.89" cy="291.24" r="1.85"/>
<circle cx="178.89" cy="292.26" r="1.85"/>
<circle cx="178.89" cy="293.27" r="1.85"/>
<circle cx="178.89" cy="294.29" r="1.85"/>
<circle cx="178.89" cy="295.30" r="1.85"/>
<circle cx="186.42" cy="278.20" r="1.85"/>
<circle cx="186.42" cy="284.60" r="1.85"/>
<circle cx="186.42" cy="287.90" r="1.85"/>
<circle cx="186.42" cy="288.96" r="1.85"/>
<circle cx="186.42" cy="290.01" r="1.85"/>
<circle cx="186.42" cy="291.07" r="1.85"/>
<circle cx="186.42" cy="292.13" r="1.85"/>
<circle cx="186.42" cy="293.19" r="1.85"/>
<circle cx="186.42" cy="294.24" r="1.85"/>
<circle cx="186.42" cy="295.30" r="1.85"/>
<circle cx="193.95" cy="284.80" r="1.85"/>
<circle cx="193.95" cy="285.85" r="1.85"/>
<circle cx="193.95" cy="286.90" r="1.85"/>
<circle cx="193.95" cy="287.95" r="1.85"/>
<circle cx="193.95" cy="289.00" r="1.85"/>
<circle cx="193.95" cy="290.05" r="1.85"/>
<circle cx="193.95" cy="291.10" r="1.85"/>
<circle cx="193.95" cy="292.15" r="1.85"/>
<circle cx="193.95" cy="293.20" r="1.85"/>
<circle cx="193.95" cy="294.25" r="1.85"/>
<circle cx="193.95" cy="295.30" r="1.85"/>
<circle cx="201.48" cy="285.30" r="1.85"/>
<circle cx="201.48" cy="288.60" r="1.85"/>
<circle cx="201.48" cy="289.56" r="1.85"/>
<circle cx="201.48" cy="290.51" r="1.85"/>
<circle cx="201.48" cy="291.47" r="1.85"/>
<circle cx="201.48" cy="292.43" r="1.85"/>
<circle cx="201.48" cy="293.39" r="1.85"/>
<circle cx="201.48" cy="294.34" r="1.85"/>
<circle cx="201.48" cy="295.30" r="1.85"/>
<circle cx="209.01" cy="265.50" r="1.85"/>
<circle cx="209.01" cy="279.60" r="1.85"/>
<circle cx="209.01" cy="283.40" r="1.85"/>
<circle cx="209.01" cy="286.70" r="1.85"/>
<circle cx="209.01" cy="287.66" r="1.85"/>
<circle cx="209.01" cy="288.61" r="1.85"/>
<circle cx="209.01" cy="289.57" r="1.85"/>
<circle cx="209.01" cy="290.52" r="1.85"/>
<circle cx="209.01" cy="291.48" r="1.85"/>
<circle cx="209.01" cy="292.43" r="1.85"/>
<circle cx="209.01" cy="293.39" r="1.85"/>
<circle cx="209.01" cy="294.34" r="1.85"/>
<circle cx="209.01" cy="295.30" r="1.85"/>
<circle cx="216.54" cy="281.00" r="1.85"/>
<circle cx="216.54" cy="284.00" r="1.85"/>
<circle cx="216.54" cy="287.30" r="1.85"/>
<circle cx="216.54" cy="288.30" r="1.85"/>
<circle cx="216.54" cy="289.30" r="1.85"/>
<circle cx="216.54" cy="290.30" r="1.85"/>
<circle cx="216.54" cy="291.30" r="1.85"/>
<circle cx="216.54" cy="292.30" r="1.85"/>
<circle cx="216.54" cy="293.30" r="1.85"/>
<circle cx="216.54" cy="294.30" r="1.85"/>
<circle cx="216.54" cy="295.30" r="1.85"/>
<circle cx="224.07" cy="287.20" r="1.85"/>
<circle cx="224.07" cy="288.21" r="1.85"/>
<circle cx="224.07" cy="289.23" r="1.85"/>
<circle cx="224.07" cy="290.24" r="1.85"/>
<circle cx="224.07" cy="291.25" r="1.85"/>
<circle cx="224.07" cy="292.26" r="1.85"/>
<circle cx="224.07" cy="293.27" r="1.85"/>
<circle cx="224.07" cy="294.29" r="1.85"/>
<circle cx="224.07" cy="295.30" r="1.85"/>
<circle cx="231.60" cy="246.50" r="1.85"/>
<circle cx="231.60" cy="284.20" r="1.85"/>
<circle cx="231.60" cy="287.50" r="1.85"/>
<circle cx="231.60" cy="288.48" r="1.85"/>
<circle cx="231.60" cy="289.45" r="1.85"/>
<circle cx="231.60" cy="290.43" r="1.85"/>
<circle cx="231.60" cy="291.40" r="1.85"/>
<circle cx="231.60" cy="292.38" r="1.85"/>
<circle cx="231.60" cy="293.35" r="1.85"/>
<circle cx="231.60" cy="294.32" r="1.85"/>
<circle cx="231.60" cy="295.30" r="1.85"/>
<circle cx="239.13" cy="286.40" r="1.85"/>
<circle cx="239.13" cy="287.39" r="1.85"/>
<circle cx="239.13" cy="288.38" r="1.85"/>
<circle cx="239.13" cy="289.37" r="1.85"/>
<circle cx="239.13" cy="290.36" r="1.85"/>
<circle cx="239.13" cy="291.34" r="1.85"/>
<circle cx="239.13" cy="292.33" r="1.85"/>
<circle cx="239.13" cy="293.32" r="1.85"/>
<circle cx="239.13" cy="294.31" r="1.85"/>
<circle cx="239.13" cy="295.30" r="1.85"/>
<circle cx="246.66" cy="267.80" r="1.85"/>
<circle cx="246.66" cy="290.40" r="1.85"/>
<circle cx="246.66" cy="291.38" r="1.85"/>
<circle cx="246.66" cy="292.36" r="1.85"/>
<circle cx="246.66" cy="293.34" r="1.85"/>
<circle cx="246.66" cy="294.32" r="1.85"/>
<circle cx="246.66" cy="295.30" r="1.85"/>
<circle cx="254.19" cy="276.80" r="1.85"/>
<circle cx="254.19" cy="290.30" r="1.85"/>
<circle cx="254.19" cy="291.30" r="1.85"/>
<circle cx="254.19" cy="292.30" r="1.85"/>
<circle cx="254.19" cy="293.30" r="1.85"/>
<circle cx="254.19" cy="294.30" r="1.85"/>
<circle cx="254.19" cy="295.30" r="1.85"/>
<circle cx="261.72" cy="273.60" r="1.85"/>
<circle cx="261.72" cy="285.00" r="1.85"/>
<circle cx="261.72" cy="291.60" r="1.85"/>
<circle cx="261.72" cy="292.53" r="1.85"/>
<circle cx="261.72" cy="293.45" r="1.85"/>
<circle cx="261.72" cy="294.38" r="1.85"/>
<circle cx="261.72" cy="295.30" r="1.85"/>
<circle cx="269.25" cy="280.60" r="1.85"/>
<circle cx="269.25" cy="290.60" r="1.85"/>
<circle cx="269.25" cy="291.54" r="1.85"/>
<circle cx="269.25" cy="292.48" r="1.85"/>
<circle cx="269.25" cy="293.42" r="1.85"/>
<circle cx="269.25" cy="294.36" r="1.85"/>
<circle cx="269.25" cy="295.30" r="1.85"/>
<circle cx="276.78" cy="288.80" r="1.85"/>
<circle cx="276.78" cy="289.88" r="1.85"/>
<circle cx="276.78" cy="290.97" r="1.85"/>
<circle cx="276.78" cy="292.05" r="1.85"/>
<circle cx="276.78" cy="293.13" r="1.85"/>
<circle cx="276.78" cy="294.22" r="1.85"/>
<circle cx="276.78" cy="295.30" r="1.85"/>
<circle cx="284.31" cy="279.90" r="1.85"/>
<circle cx="284.31" cy="288.00" r="1.85"/>
<circle cx="284.31" cy="289.04" r="1.85"/>
<circle cx="284.31" cy="290.09" r="1.85"/>
<circle cx="284.31" cy="291.13" r="1.85"/>
<circle cx="284.31" cy="292.17" r="1.85"/>
<circle cx="284.31" cy="293.21" r="1.85"/>
<circle cx="284.31" cy="294.26" r="1.85"/>
<circle cx="284.31" cy="295.30" r="1.85"/>
<circle cx="291.84" cy="280.20" r="1.85"/>
<circle cx="291.84" cy="289.50" r="1.85"/>
<circle cx="291.84" cy="292.80" r="1.85"/>
<circle cx="291.84" cy="294.05" r="1.85"/>
<circle cx="291.84" cy="295.30" r="1.85"/>
<circle cx="299.37" cy="272.30" r="1.85"/>
<circle cx="299.37" cy="275.70" r="1.85"/>
<circle cx="299.37" cy="282.30" r="1.85"/>
<circle cx="299.37" cy="285.60" r="1.85"/>
<circle cx="299.37" cy="286.57" r="1.85"/>
<circle cx="299.37" cy="287.54" r="1.85"/>
<circle cx="299.37" cy="288.51" r="1.85"/>
<circle cx="299.37" cy="289.48" r="1.85"/>
<circle cx="299.37" cy="290.45" r="1.85"/>
<circle cx="299.37" cy="291.42" r="1.85"/>
<circle cx="299.37" cy="292.39" r="1.85"/>
<circle cx="299.37" cy="293.36" r="1.85"/>
<circle cx="299.37" cy="294.33" r="1.85"/>
<circle cx="299.37" cy="295.30" r="1.85"/>
<circle cx="306.90" cy="280.70" r="1.85"/>
<circle cx="306.90" cy="290.90" r="1.85"/>
<circle cx="306.90" cy="292.00" r="1.85"/>
<circle cx="306.90" cy="293.10" r="1.85"/>
<circle cx="306.90" cy="294.20" r="1.85"/>
<circle cx="306.90" cy="295.30" r="1.85"/>
<circle cx="314.43" cy="288.00" r="1.85"/>
<circle cx="314.43" cy="289.04" r="1.85"/>
<circle cx="314.43" cy="290.09" r="1.85"/>
<circle cx="314.43" cy="291.13" r="1.85"/>
<circle cx="314.43" cy="292.17" r="1.85"/>
<circle cx="314.43" cy="293.21" r="1.85"/>
<circle cx="314.43" cy="294.26" r="1.85"/>
<circle cx="314.43" cy="295.30" r="1.85"/>
<circle cx="321.96" cy="287.00" r="1.85"/>
<circle cx="321.96" cy="290.30" r="1.85"/>
<circle cx="321.96" cy="291.30" r="1.85"/>
<circle cx="321.96" cy="292.30" r="1.85"/>
<circle cx="321.96" cy="293.30" r="1.85"/>
<circle cx="321.96" cy="294.30" r="1.85"/>
<circle cx="321.96" cy="295.30" r="1.85"/>
<circle cx="329.49" cy="289.50" r="1.85"/>
<circle cx="329.49" cy="292.80" r="1.85"/>
<circle cx="329.49" cy="294.05" r="1.85"/>
<circle cx="329.49" cy="295.30" r="1.85"/>
<circle cx="337.02" cy="290.90" r="1.85"/>
<circle cx="337.02" cy="292.00" r="1.85"/>
<circle cx="337.02" cy="293.10" r="1.85"/>
<circle cx="337.02" cy="294.20" r="1.85"/>
<circle cx="337.02" cy="295.30" r="1.85"/>
<circle cx="344.55" cy="276.90" r="1.85"/>
<circle cx="344.55" cy="288.40" r="1.85"/>
<circle cx="344.55" cy="289.39" r="1.85"/>
<circle cx="344.55" cy="290.37" r="1.85"/>
<circle cx="344.55" cy="291.36" r="1.85"/>
<circle cx="344.55" cy="292.34" r="1.85"/>
<circle cx="344.55" cy="293.33" r="1.85"/>
<circle cx="344.55" cy="294.31" r="1.85"/>
<circle cx="344.55" cy="295.30" r="1.85"/>
<circle cx="352.08" cy="287.70" r="1.85"/>
<circle cx="352.08" cy="291.00" r="1.85"/>
<circle cx="352.08" cy="292.07" r="1.85"/>
<circle cx="352.08" cy="293.15" r="1.85"/>
<circle cx="352.08" cy="294.23" r="1.85"/>
<circle cx="352.08" cy="295.30" r="1.85"/>
<circle cx="359.61" cy="291.60" r="1.85"/>
<circle cx="359.61" cy="292.53" r="1.85"/>
<circle cx="359.61" cy="293.45" r="1.85"/>
<circle cx="359.61" cy="294.38" r="1.85"/>
<circle cx="359.61" cy="295.30" r="1.85"/>
<circle cx="367.14" cy="289.60" r="1.85"/>
<circle cx="367.14" cy="290.55" r="1.85"/>
<circle cx="367.14" cy="291.50" r="1.85"/>
<circle cx="367.14" cy="292.45" r="1.85"/>
<circle cx="367.14" cy="293.40" r="1.85"/>
<circle cx="367.14" cy="294.35" r="1.85"/>
<circle cx="367.14" cy="295.30" r="1.85"/>
<circle cx="374.67" cy="289.20" r="1.85"/>
<circle cx="374.67" cy="290.22" r="1.85"/>
<circle cx="374.67" cy="291.23" r="1.85"/>
<circle cx="374.67" cy="292.25" r="1.85"/>
<circle cx="374.67" cy="293.27" r="1.85"/>
<circle cx="374.67" cy="294.28" r="1.85"/>
<circle cx="374.67" cy="295.30" r="1.85"/>
<circle cx="382.20" cy="285.80" r="1.85"/>
<circle cx="382.20" cy="289.10" r="1.85"/>
<circle cx="382.20" cy="290.13" r="1.85"/>
<circle cx="382.20" cy="291.17" r="1.85"/>
<circle cx="382.20" cy="292.20" r="1.85"/>
<circle cx="382.20" cy="293.23" r="1.85"/>
<circle cx="382.20" cy="294.27" r="1.85"/>
<circle cx="382.20" cy="295.30" r="1.85"/>
<circle cx="389.73" cy="292.00" r="1.85"/>
<circle cx="389.73" cy="293.10" r="1.85"/>
<circle cx="389.73" cy="294.20" r="1.85"/>
<circle cx="389.73" cy="295.30" r="1.85"/>
<circle cx="397.26" cy="290.40" r="1.85"/>
<circle cx="397.26" cy="291.38" r="1.85"/>
<circle cx="397.26" cy="292.36" r="1.85"/>
<circle cx="397.26" cy="293.34" r="1.85"/>
<circle cx="397.26" cy="294.32" r="1.85"/>
<circle cx="397.26" cy="295.30" r="1.85"/>
<circle cx="404.79" cy="291.30" r="1.85"/>
<circle cx="404.79" cy="292.30" r="1.85"/>
<circle cx="404.79" cy="293.30" r="1.85"/>
<circle cx="404.79" cy="294.30" r="1.85"/>
<circle cx="404.79" cy="295.30" r="1.85"/>
<circle cx="412.32" cy="289.40" r="1.85"/>
<circle cx="412.32" cy="290.38" r="1.85"/>
<circle cx="412.32" cy="291.37" r="1.85"/>
<circle cx="412.32" cy="292.35" r="1.85"/>
<circle cx="412.32" cy="293.33" r="1.85"/>
<circle cx="412.32" cy="294.32" r="1.85"/>
<circle cx="412.32" cy="295.30" r="1.85"/>
<circle cx="419.85" cy="290.80" r="1.85"/>
<circle cx="419.85" cy="291.93" r="1.85"/>
<circle cx="419.85" cy="293.05" r="1.85"/>
<circle cx="419.85" cy="294.18" r="1.85"/>
<circle cx="419.85" cy="295.30" r="1.85"/>
<circle cx="427.38" cy="291.00" r="1.85"/>
<circle cx="427.38" cy="294.30" r="1.85"/>
<circle cx="427.38" cy="295.30" r="1.85"/>
<circle cx="434.91" cy="290.80" r="1.85"/>
<circle cx="434.91" cy="291.93" r="1.85"/>
<circle cx="434.91" cy="293.05" r="1.85"/>
<circle cx="434.91" cy="294.18" r="1.85"/>
<circle cx="434.91" cy="295.30" r="1.85"/>
<circle cx="442.44" cy="283.30" r="1.85"/>
<circle cx="442.44" cy="291.60" r="1.85"/>
<circle cx="442.44" cy="292.53" r="1.85"/>
<circle cx="442.44" cy="293.45" r="1.85"/>
<circle cx="442.44" cy="294.38" r="1.85"/>
<circle cx="442.44" cy="295.30" r="1.85"/>
<circle cx="449.97" cy="285.80" r="1.85"/>
<circle cx="449.97" cy="288.90" r="1.85"/>
<circle cx="449.97" cy="292.20" r="1.85"/>
<circle cx="449.97" cy="293.23" r="1.85"/>
<circle cx="449.97" cy="294.27" r="1.85"/>
<circle cx="449.97" cy="295.30" r="1.85"/>
<circle cx="457.50" cy="290.00" r="1.85"/>
<circle cx="457.50" cy="293.30" r="1.85"/>
<circle cx="457.50" cy="294.30" r="1.85"/>
<circle cx="457.50" cy="295.30" r="1.85"/>
<circle cx="465.03" cy="292.10" r="1.85"/>
<circle cx="465.03" cy="293.17" r="1.85"/>
<circle cx="465.03" cy="294.23" r="1.85"/>
<circle cx="465.03" cy="295.30" r="1.85"/>
<circle cx="472.56" cy="292.10" r="1.85"/>
<circle cx="472.56" cy="293.17" r="1.85"/>
<circle cx="472.56" cy="294.23" r="1.85"/>
<circle cx="472.56" cy="295.30" r="1.85"/>
<circle cx="480.09" cy="294.10" r="1.85"/>
<circle cx="480.09" cy="295.30" r="1.85"/>
<circle cx="487.62" cy="293.80" r="1.85"/>
<circle cx="487.62" cy="294.55" r="1.85"/>
<circle cx="487.62" cy="295.30" r="1.85"/>
<circle cx="495.15" cy="290.60" r="1.85"/>
<circle cx="495.15" cy="293.90" r="1.85"/>
<circle cx="495.15" cy="295.30" r="1.85"/>
<circle cx="502.68" cy="293.00" r="1.85"/>
<circle cx="502.68" cy="294.15" r="1.85"/>
<circle cx="502.68" cy="295.30" r="1.85"/>
<circle cx="510.21" cy="289.50" r="1.85"/>
<circle cx="510.21" cy="292.80" r="1.85"/>
<circle cx="510.21" cy="294.05" r="1.85"/>
<circle cx="510.21" cy="295.30" r="1.85"/>
</g>
<rect x="75.4" y="340.8" width="52.60" height="16.6" fill="#000"/>
<rect x="165.6" y="340.8" width="7.70" height="16.6" fill="#000"/>
<rect x="203.7" y="340.8" width="7.60" height="16.6" fill="#000"/>
<rect x="241.5" y="340.8" width="7.70" height="16.6" fill="#000"/>
<rect x="506.2" y="340.8" width="7.60" height="16.6" fill="#000"/>
<line x1="77.7" y1="380.8" x2="77.7" y2="673.8" stroke="#000" stroke-width="2"/>
<line x1="76.7" y1="672.8" x2="515.4" y2="672.8" stroke="#000" stroke-width="2"/>
<line x1="72.8" y1="672.80" x2="77.7" y2="672.80" stroke="#000" stroke-width="1.6"/>
<text x="71.6" y="676.80" text-anchor="end" font-size="10" font-weight="bold" stroke="#000" stroke-width="0.2">0</text>
<line x1="72.8" y1="636.40" x2="77.7" y2="636.40" stroke="#000" stroke-width="1.6"/>
<text x="71.6" y="640.40" text-anchor="end" font-size="10" font-weight="bold" stroke="#000" stroke-width="0.2">5000</text>
<line x1="72.8" y1="600.00" x2="77.7" y2="600.00" stroke="#000" stroke-width="1.6"/>
<text x="71.6" y="604.00" text-anchor="end" font-size="10" font-weight="bold" stroke="#000" stroke-width="0.2">10000</text>
<line x1="72.8" y1="563.60" x2="77.7" y2="563.60" stroke="#000" stroke-width="1.6"/>
<text x="71.6" y="567.60" text-anchor="end" font-size="10" font-weight="bold" stroke="#000" stroke-width="0.2">15000</text>
<line x1="72.8" y1="527.20" x2="77.7" y2="527.20" stroke="#000" stroke-width="1.6"/>
<text x="71.6" y="531.20" text-anchor="end" font-size="10" font-weight="bold" stroke="#000" stroke-width="0.2">20000</text>
<line x1="72.8" y1="490.80" x2="77.7" y2="490.80" stroke="#000" stroke-width="1.6"/>
<text x="71.6" y="494.80" text-anchor="end" font-size="10" font-weight="bold" stroke="#000" stroke-width="0.2">25000</text>
<line x1="72.8" y1="454.40" x2="77.7" y2="454.40" stroke="#000" stroke-width="1.6"/>
<text x="71.6" y="458.40" text-anchor="end" font-size="10" font-weight="bold" stroke="#000" stroke-width="0.2">30000</text>
<line x1="72.8" y1="418.00" x2="77.7" y2="418.00" stroke="#000" stroke-width="1.6"/>
<text x="71.6" y="422.00" text-anchor="end" font-size="10" font-weight="bold" stroke="#000" stroke-width="0.2">35000</text>
<line x1="72.8" y1="381.60" x2="77.7" y2="381.60" stroke="#000" stroke-width="1.6"/>
<text x="71.6" y="385.60" text-anchor="end" font-size="10" font-weight="bold" stroke="#000" stroke-width="0.2">40000</text>
<line x1="83.80" y1="672.8" x2="83.80" y2="677.8" stroke="#000" stroke-width="1.6"/>
<text transform="translate(86.90,680.6) rotate(-90)" text-anchor="end" font-size="9.1" font-weight="bold" stroke="#000" stroke-width="0.12">JAK1</text>
<line x1="96.55" y1="672.8" x2="96.55" y2="677.8" stroke="#000" stroke-width="1.6"/>
<text transform="translate(99.65,680.6) rotate(-90)" text-anchor="end" font-size="9.1" font-weight="bold" stroke="#000" stroke-width="0.12">LYN</text>
<line x1="109.30" y1="672.8" x2="109.30" y2="677.8" stroke="#000" stroke-width="1.6"/>
<text transform="translate(112.40,680.6) rotate(-90)" text-anchor="end" font-size="9.1" font-weight="bold" stroke="#000" stroke-width="0.12">SYK</text>
<line x1="122.05" y1="672.8" x2="122.05" y2="677.8" stroke="#000" stroke-width="1.6"/>
<text transform="translate(125.15,680.6) rotate(-90)" text-anchor="end" font-size="9.1" font-weight="bold" stroke="#000" stroke-width="0.12">FYN</text>
<line x1="134.80" y1="672.8" x2="134.80" y2="677.8" stroke="#000" stroke-width="1.6"/>
<text transform="translate(137.90,680.6) rotate(-90)" text-anchor="end" font-size="9.1" font-weight="bold" stroke="#000" stroke-width="0.12">FGR</text>
<line x1="147.55" y1="672.8" x2="147.55" y2="677.8" stroke="#000" stroke-width="1.6"/>
<text transform="translate(150.65,680.6) rotate(-90)" text-anchor="end" font-size="9.1" font-weight="bold" stroke="#000" stroke-width="0.12">CSK</text>
<line x1="160.30" y1="672.8" x2="160.30" y2="677.8" stroke="#000" stroke-width="1.6"/>
<text transform="translate(163.40,680.6) rotate(-90)" text-anchor="end" font-size="9.1" font-weight="bold" stroke="#000" stroke-width="0.12">HCK</text>
<line x1="173.05" y1="672.8" x2="173.05" y2="677.8" stroke="#000" stroke-width="1.6"/>
<text transform="translate(176.15,680.6) rotate(-90)" text-anchor="end" font-size="9.1" font-weight="bold" stroke="#000" stroke-width="0.12">BTK</text>
<line x1="185.80" y1="672.8" x2="185.80" y2="677.8" stroke="#000" stroke-width="1.6"/>
<text transform="translate(188.90,680.6) rotate(-90)" text-anchor="end" font-size="9.1" font-weight="bold" stroke="#000" stroke-width="0.12">JAK3</text>
<line x1="198.55" y1="672.8" x2="198.55" y2="677.8" stroke="#000" stroke-width="1.6"/>
<text transform="translate(201.65,680.6) rotate(-90)" text-anchor="end" font-size="9.1" font-weight="bold" stroke="#000" stroke-width="0.12">ILK</text>
<line x1="211.30" y1="672.8" x2="211.30" y2="677.8" stroke="#000" stroke-width="1.6"/>
<text transform="translate(214.40,680.6) rotate(-90)" text-anchor="end" font-size="9.1" font-weight="bold" stroke="#000" stroke-width="0.12">TYK2</text>
<line x1="224.05" y1="672.8" x2="224.05" y2="677.8" stroke="#000" stroke-width="1.6"/>
<text transform="translate(227.15,680.6) rotate(-90)" text-anchor="end" font-size="9.1" font-weight="bold" stroke="#000" stroke-width="0.12">PTK2B</text>
<line x1="236.80" y1="672.8" x2="236.80" y2="677.8" stroke="#000" stroke-width="1.6"/>
<text transform="translate(239.90,680.6) rotate(-90)" text-anchor="end" font-size="9.1" font-weight="bold" stroke="#000" stroke-width="0.12">JAK2</text>
<line x1="249.55" y1="672.8" x2="249.55" y2="677.8" stroke="#000" stroke-width="1.6"/>
<text transform="translate(252.65,680.6) rotate(-90)" text-anchor="end" font-size="9.1" font-weight="bold" stroke="#000" stroke-width="0.12">ABL1</text>
<line x1="262.30" y1="672.8" x2="262.30" y2="677.8" stroke="#000" stroke-width="1.6"/>
<text transform="translate(265.40,680.6) rotate(-90)" text-anchor="end" font-size="9.1" font-weight="bold" stroke="#000" stroke-width="0.12">FES</text>
<line x1="275.05" y1="672.8" x2="275.05" y2="677.8" stroke="#000" stroke-width="1.6"/>
<text transform="translate(278.15,680.6) rotate(-90)" text-anchor="end" font-size="9.1" font-weight="bold" stroke="#000" stroke-width="0.12">LCK</text>
<line x1="287.80" y1="672.8" x2="287.80" y2="677.8" stroke="#000" stroke-width="1.6"/>
<text transform="translate(290.90,680.6) rotate(-90)" text-anchor="end" font-size="9.1" font-weight="bold" stroke="#000" stroke-width="0.12">ITK</text>
<line x1="300.55" y1="672.8" x2="300.55" y2="677.8" stroke="#000" stroke-width="1.6"/>
<text transform="translate(303.65,680.6) rotate(-90)" text-anchor="end" font-size="9.1" font-weight="bold" stroke="#000" stroke-width="0.12">YES1</text>
<line x1="313.30" y1="672.8" x2="313.30" y2="677.8" stroke="#000" stroke-width="1.6"/>
<text transform="translate(316.40,680.6) rotate(-90)" text-anchor="end" font-size="9.1" font-weight="bold" stroke="#000" stroke-width="0.12">TNK2</text>
<line x1="326.05" y1="672.8" x2="326.05" y2="677.8" stroke="#000" stroke-width="1.6"/>
<text transform="translate(329.15,680.6) rotate(-90)" text-anchor="end" font-size="9.1" font-weight="bold" stroke="#000" stroke-width="0.12">ZAP70</text>
<line x1="338.80" y1="672.8" x2="338.80" y2="677.8" stroke="#000" stroke-width="1.6"/>
<text transform="translate(341.90,680.6) rotate(-90)" text-anchor="end" font-size="9.1" font-weight="bold" stroke="#000" stroke-width="0.12">SNX9</text>
<line x1="351.55" y1="672.8" x2="351.55" y2="677.8" stroke="#000" stroke-width="1.6"/>
<text transform="translate(354.65,680.6) rotate(-90)" text-anchor="end" font-size="9.1" font-weight="bold" stroke="#000" stroke-width="0.12">MATK</text>
<line x1="364.30" y1="672.8" x2="364.30" y2="677.8" stroke="#000" stroke-width="1.6"/>
<text transform="translate(367.40,680.6) rotate(-90)" text-anchor="end" font-size="9.1" font-weight="bold" stroke="#000" stroke-width="0.12">TXK</text>
<line x1="377.05" y1="672.8" x2="377.05" y2="677.8" stroke="#000" stroke-width="1.6"/>
<text transform="translate(380.15,680.6) rotate(-90)" text-anchor="end" font-size="9.1" font-weight="bold" stroke="#000" stroke-width="0.12">PTK2</text>
<line x1="389.80" y1="672.8" x2="389.80" y2="677.8" stroke="#000" stroke-width="1.6"/>
<text transform="translate(392.90,680.6) rotate(-90)" text-anchor="end" font-size="9.1" font-weight="bold" stroke="#000" stroke-width="0.12">TNK1</text>
<line x1="402.55" y1="672.8" x2="402.55" y2="677.8" stroke="#000" stroke-width="1.6"/>
<text transform="translate(405.65,680.6) rotate(-90)" text-anchor="end" font-size="9.1" font-weight="bold" stroke="#000" stroke-width="0.12">TEC</text>
<line x1="415.30" y1="672.8" x2="415.30" y2="677.8" stroke="#000" stroke-width="1.6"/>
<text transform="translate(418.40,680.6) rotate(-90)" text-anchor="end" font-size="9.1" font-weight="bold" stroke="#000" stroke-width="0.12">FER</text>
<line x1="428.05" y1="672.8" x2="428.05" y2="677.8" stroke="#000" stroke-width="1.6"/>
<text transform="translate(431.15,680.6) rotate(-90)" text-anchor="end" font-size="9.1" font-weight="bold" stroke="#000" stroke-width="0.12">PTK6</text>
<line x1="440.80" y1="672.8" x2="440.80" y2="677.8" stroke="#000" stroke-width="1.6"/>
<text transform="translate(443.90,680.6) rotate(-90)" text-anchor="end" font-size="9.1" font-weight="bold" stroke="#000" stroke-width="0.12">BLK</text>
<line x1="453.55" y1="672.8" x2="453.55" y2="677.8" stroke="#000" stroke-width="1.6"/>
<text transform="translate(456.65,680.6) rotate(-90)" text-anchor="end" font-size="9.1" font-weight="bold" stroke="#000" stroke-width="0.12">SRC</text>
<line x1="466.30" y1="672.8" x2="466.30" y2="677.8" stroke="#000" stroke-width="1.6"/>
<text transform="translate(469.40,680.6) rotate(-90)" text-anchor="end" font-size="9.1" font-weight="bold" stroke="#000" stroke-width="0.12">ABL2</text>
<line x1="479.05" y1="672.8" x2="479.05" y2="677.8" stroke="#000" stroke-width="1.6"/>
<text transform="translate(482.15,680.6) rotate(-90)" text-anchor="end" font-size="9.1" font-weight="bold" stroke="#000" stroke-width="0.12">BMX</text>
<line x1="491.80" y1="672.8" x2="491.80" y2="677.8" stroke="#000" stroke-width="1.6"/>
<text transform="translate(494.90,680.6) rotate(-90)" text-anchor="end" font-size="9.1" font-weight="bold" stroke="#000" stroke-width="0.12">SRMS</text>
<line x1="504.55" y1="672.8" x2="504.55" y2="677.8" stroke="#000" stroke-width="1.6"/>
<text transform="translate(507.65,680.6) rotate(-90)" text-anchor="end" font-size="9.1" font-weight="bold" stroke="#000" stroke-width="0.12">FRK</text>
<g fill="none" stroke="#000" stroke-width="1.15">
<circle cx="83.80" cy="471.30" r="1.65"/>
<circle cx="83.80" cy="487.20" r="1.65"/>
<circle cx="83.80" cy="488.00" r="1.65"/>
<circle cx="83.80" cy="493.40" r="1.65"/>
<circle cx="83.80" cy="504.90" r="1.65"/>
<circle cx="83.80" cy="524.60" r="1.65"/>
<circle cx="83.80" cy="528.80" r="1.65"/>
<circle cx="83.80" cy="533.50" r="1.65"/>
<circle cx="83.80" cy="538.50" r="1.65"/>
<circle cx="83.80" cy="539.10" r="1.65"/>
<circle cx="83.80" cy="541.10" r="1.65"/>
<circle cx="83.80" cy="542.00" r="1.65"/>
<circle cx="83.80" cy="542.90" r="1.65"/>
<circle cx="83.80" cy="544.30" r="1.65"/>
<circle cx="83.80" cy="545.70" r="1.65"/>
<circle cx="83.80" cy="546.80" r="1.65"/>
<circle cx="83.80" cy="548.80" r="1.65"/>
<circle cx="83.80" cy="550.20" r="1.65"/>
<circle cx="83.80" cy="552.20" r="1.65"/>
<circle cx="83.80" cy="553.10" r="1.65"/>
<circle cx="83.80" cy="554.50" r="1.65"/>
<circle cx="83.80" cy="555.10" r="1.65"/>
<circle cx="83.80" cy="556.50" r="1.65"/>
<circle cx="83.80" cy="557.60" r="1.65"/>
<circle cx="83.80" cy="559.00" r="1.65"/>
<circle cx="83.80" cy="560.40" r="1.65"/>
<circle cx="83.80" cy="561.80" r="1.65"/>
<circle cx="83.80" cy="562.40" r="1.65"/>
<circle cx="83.80" cy="563.00" r="1.65"/>
<circle cx="83.80" cy="563.60" r="1.65"/>
<circle cx="83.80" cy="564.50" r="1.65"/>
<circle cx="83.80" cy="565.90" r="1.65"/>
<circle cx="83.80" cy="566.50" r="1.65"/>
<circle cx="83.80" cy="568.50" r="1.65"/>
<circle cx="83.80" cy="569.40" r="1.65"/>
<circle cx="83.80" cy="570.80" r="1.65"/>
<circle cx="83.80" cy="572.80" r="1.65"/>
<circle cx="83.80" cy="573.90" r="1.65"/>
<circle cx="83.80" cy="575.00" r="1.65"/>
<circle cx="83.80" cy="575.60" r="1.65"/>
<circle cx="83.80" cy="576.20" r="1.65"/>
<circle cx="83.80" cy="577.30" r="1.65"/>
<circle cx="83.80" cy="578.70" r="1.65"/>
<circle cx="83.80" cy="579.80" r="1.65"/>
<circle cx="83.80" cy="580.70" r="1.65"/>
<circle cx="83.80" cy="581.30" r="1.65"/>
<circle cx="83.80" cy="581.90" r="1.65"/>
<circle cx="83.80" cy="582.80" r="1.65"/>
<circle cx="83.80" cy="584.20" r="1.65"/>
<circle cx="83.80" cy="584.80" r="1.65"/>
<circle cx="83.80" cy="585.40" r="1.65"/>
<circle cx="83.80" cy="586.00" r="1.65"/>
<circle cx="83.80" cy="588.00" r="1.65"/>
<circle cx="83.80" cy="589.40" r="1.65"/>
<circle cx="83.80" cy="590.30" r="1.65"/>
<circle cx="83.80" cy="591.20" r="1.65"/>
<circle cx="83.80" cy="593.20" r="1.65"/>
<circle cx="83.80" cy="594.30" r="1.65"/>
<circle cx="83.80" cy="595.70" r="1.65"/>
<circle cx="83.80" cy="596.80" r="1.65"/>
<circle cx="83.80" cy="598.80" r="1.65"/>
<circle cx="83.80" cy="600.80" r="1.65"/>
<circle cx="83.80" cy="601.70" r="1.65"/>
<circle cx="83.80" cy="602.00" r="1.65"/>
<circle cx="83.80" cy="605.50" r="1.65"/>
<circle cx="83.80" cy="608.80" r="1.65"/>
<circle cx="83.80" cy="614.20" r="1.65"/>
<circle cx="83.80" cy="615.20" r="1.65"/>
<circle cx="83.80" cy="621.80" r="1.65"/>
<circle cx="83.80" cy="628.60" r="1.65"/>
<circle cx="96.55" cy="432.30" r="1.65"/>
<circle cx="96.55" cy="476.50" r="1.65"/>
<circle cx="96.55" cy="494.30" r="1.65"/>
<circle cx="96.55" cy="496.00" r="1.65"/>
<circle cx="96.55" cy="497.70" r="1.65"/>
<circle cx="96.55" cy="504.00" r="1.65"/>
<circle cx="96.55" cy="509.20" r="1.65"/>
<circle cx="96.55" cy="509.80" r="1.65"/>
<circle cx="96.55" cy="513.10" r="1.65"/>
<circle cx="96.55" cy="516.00" r="1.65"/>
<circle cx="96.55" cy="522.70" r="1.65"/>
<circle cx="96.55" cy="527.60" r="1.65"/>
<circle cx="96.55" cy="528.40" r="1.65"/>
<circle cx="96.55" cy="534.60" r="1.65"/>
<circle cx="96.55" cy="537.60" r="1.65"/>
<circle cx="96.55" cy="541.00" r="1.65"/>
<circle cx="96.55" cy="543.00" r="1.65"/>
<circle cx="96.55" cy="546.40" r="1.65"/>
<circle cx="96.55" cy="548.40" r="1.65"/>
<circle cx="96.55" cy="550.90" r="1.65"/>
<circle cx="96.55" cy="552.90" r="1.65"/>
<circle cx="96.55" cy="553.80" r="1.65"/>
<circle cx="96.55" cy="556.70" r="1.65"/>
<circle cx="96.55" cy="561.50" r="1.65"/>
<circle cx="96.55" cy="565.40" r="1.65"/>
<circle cx="96.55" cy="569.20" r="1.65"/>
<circle cx="96.55" cy="574.00" r="1.65"/>
<circle cx="96.55" cy="574.60" r="1.65"/>
<circle cx="96.55" cy="575.50" r="1.65"/>
<circle cx="96.55" cy="576.10" r="1.65"/>
<circle cx="96.55" cy="577.00" r="1.65"/>
<circle cx="96.55" cy="580.80" r="1.65"/>
<circle cx="96.55" cy="583.70" r="1.65"/>
<circle cx="96.55" cy="586.50" r="1.65"/>
<circle cx="96.55" cy="589.60" r="1.65"/>
<circle cx="96.55" cy="591.60" r="1.65"/>
<circle cx="96.55" cy="592.50" r="1.65"/>
<circle cx="96.55" cy="593.40" r="1.65"/>
<circle cx="96.55" cy="594.80" r="1.65"/>
<circle cx="96.55" cy="596.80" r="1.65"/>
<circle cx="96.55" cy="598.20" r="1.65"/>
<circle cx="96.55" cy="599.60" r="1.65"/>
<circle cx="96.55" cy="601.60" r="1.65"/>
<circle cx="96.55" cy="602.00" r="1.65"/>
<circle cx="96.55" cy="605.00" r="1.65"/>
<circle cx="96.55" cy="606.10" r="1.65"/>
<circle cx="96.55" cy="607.00" r="1.65"/>
<circle cx="96.55" cy="608.10" r="1.65"/>
<circle cx="96.55" cy="609.50" r="1.65"/>
<circle cx="96.55" cy="610.90" r="1.65"/>
<circle cx="96.55" cy="611.80" r="1.65"/>
<circle cx="96.55" cy="612.70" r="1.65"/>
<circle cx="96.55" cy="614.00" r="1.65"/>
<circle cx="96.55" cy="616.50" r="1.65"/>
<circle cx="96.55" cy="617.90" r="1.65"/>
<circle cx="96.55" cy="619.30" r="1.65"/>
<circle cx="96.55" cy="621.30" r="1.65"/>
<circle cx="96.55" cy="621.90" r="1.65"/>
<circle cx="96.55" cy="622.80" r="1.65"/>
<circle cx="96.55" cy="624.20" r="1.65"/>
<circle cx="96.55" cy="625.10" r="1.65"/>
<circle cx="96.55" cy="626.00" r="1.65"/>
<circle cx="96.55" cy="626.60" r="1.65"/>
<circle cx="96.55" cy="628.60" r="1.65"/>
<circle cx="96.55" cy="629.70" r="1.65"/>
<circle cx="96.55" cy="631.10" r="1.65"/>
<circle cx="96.55" cy="632.50" r="1.65"/>
<circle cx="96.55" cy="633.60" r="1.65"/>
<circle cx="96.55" cy="635.00" r="1.65"/>
<circle cx="96.55" cy="636.40" r="1.65"/>
<circle cx="96.55" cy="638.40" r="1.65"/>
<circle cx="96.55" cy="639.50" r="1.65"/>
<circle cx="96.55" cy="640.60" r="1.65"/>
<circle cx="96.55" cy="642.60" r="1.65"/>
<circle cx="96.55" cy="643.30" r="1.65"/>
<circle cx="96.55" cy="644.20" r="1.65"/>
<circle cx="96.55" cy="648.20" r="1.65"/>
<circle cx="96.55" cy="649.20" r="1.65"/>
<circle cx="96.55" cy="656.30" r="1.65"/>
<circle cx="96.55" cy="660.60" r="1.65"/>
<circle cx="109.30" cy="500.00" r="1.65"/>
<circle cx="109.30" cy="501.20" r="1.65"/>
<circle cx="109.30" cy="514.70" r="1.65"/>
<circle cx="109.30" cy="532.70" r="1.65"/>
<circle cx="109.30" cy="534.60" r="1.65"/>
<circle cx="109.30" cy="539.40" r="1.65"/>
<circle cx="109.30" cy="542.30" r="1.65"/>
<circle cx="109.30" cy="551.00" r="1.65"/>
<circle cx="109.30" cy="554.40" r="1.65"/>
<circle cx="109.30" cy="557.40" r="1.65"/>
<circle cx="109.30" cy="560.40" r="1.65"/>
<circle cx="109.30" cy="562.90" r="1.65"/>
<circle cx="109.30" cy="565.90" r="1.65"/>
<circle cx="109.30" cy="568.90" r="1.65"/>
<circle cx="109.30" cy="572.30" r="1.65"/>
<circle cx="109.30" cy="575.70" r="1.65"/>
<circle cx="109.30" cy="577.70" r="1.65"/>
<circle cx="109.30" cy="580.00" r="1.65"/>
<circle cx="109.30" cy="580.00" r="1.65"/>
<circle cx="109.30" cy="583.40" r="1.65"/>
<circle cx="109.30" cy="585.90" r="1.65"/>
<circle cx="109.30" cy="588.40" r="1.65"/>
<circle cx="109.30" cy="591.80" r="1.65"/>
<circle cx="109.30" cy="593.50" r="1.65"/>
<circle cx="109.30" cy="595.40" r="1.65"/>
<circle cx="109.30" cy="597.40" r="1.65"/>
<circle cx="109.30" cy="599.40" r="1.65"/>
<circle cx="109.30" cy="600.50" r="1.65"/>
<circle cx="109.30" cy="601.90" r="1.65"/>
<circle cx="109.30" cy="602.50" r="1.65"/>
<circle cx="109.30" cy="603.60" r="1.65"/>
<circle cx="109.30" cy="605.00" r="1.65"/>
<circle cx="109.30" cy="606.10" r="1.65"/>
<circle cx="109.30" cy="606.70" r="1.65"/>
<circle cx="109.30" cy="607.60" r="1.65"/>
<circle cx="109.30" cy="608.20" r="1.65"/>
<circle cx="109.30" cy="610.20" r="1.65"/>
<circle cx="109.30" cy="611.10" r="1.65"/>
<circle cx="109.30" cy="611.70" r="1.65"/>
<circle cx="109.30" cy="613.10" r="1.65"/>
<circle cx="109.30" cy="614.50" r="1.65"/>
<circle cx="109.30" cy="615.10" r="1.65"/>
<circle cx="109.30" cy="616.20" r="1.65"/>
<circle cx="109.30" cy="617.10" r="1.65"/>
<circle cx="109.30" cy="617.70" r="1.65"/>
<circle cx="109.30" cy="618.60" r="1.65"/>
<circle cx="109.30" cy="620.60" r="1.65"/>
<circle cx="109.30" cy="622.00" r="1.65"/>
<circle cx="109.30" cy="622.90" r="1.65"/>
<circle cx="109.30" cy="624.90" r="1.65"/>
<circle cx="109.30" cy="625.80" r="1.65"/>
<circle cx="109.30" cy="626.40" r="1.65"/>
<circle cx="109.30" cy="628.40" r="1.65"/>
<circle cx="109.30" cy="630.40" r="1.65"/>
<circle cx="109.30" cy="631.00" r="1.65"/>
<circle cx="109.30" cy="633.00" r="1.65"/>
<circle cx="109.30" cy="635.00" r="1.65"/>
<circle cx="109.30" cy="637.00" r="1.65"/>
<circle cx="109.30" cy="638.40" r="1.65"/>
<circle cx="109.30" cy="639.00" r="1.65"/>
<circle cx="109.30" cy="639.60" r="1.65"/>
<circle cx="109.30" cy="641.60" r="1.65"/>
<circle cx="109.30" cy="642.30" r="1.65"/>
<circle cx="109.30" cy="645.70" r="1.65"/>
<circle cx="109.30" cy="649.00" r="1.65"/>
<circle cx="109.30" cy="656.30" r="1.65"/>
<circle cx="122.05" cy="464.30" r="1.65"/>
<circle cx="122.05" cy="469.80" r="1.65"/>
<circle cx="122.05" cy="484.20" r="1.65"/>
<circle cx="122.05" cy="510.20" r="1.65"/>
<circle cx="122.05" cy="527.50" r="1.65"/>
<circle cx="122.05" cy="534.10" r="1.65"/>
<circle cx="122.05" cy="539.40" r="1.65"/>
<circle cx="122.05" cy="545.20" r="1.65"/>
<circle cx="122.05" cy="551.00" r="1.65"/>
<circle cx="122.05" cy="558.70" r="1.65"/>
<circle cx="122.05" cy="561.70" r="1.65"/>
<circle cx="122.05" cy="563.70" r="1.65"/>
<circle cx="122.05" cy="566.20" r="1.65"/>
<circle cx="122.05" cy="568.70" r="1.65"/>
<circle cx="122.05" cy="571.20" r="1.65"/>
<circle cx="122.05" cy="573.20" r="1.65"/>
<circle cx="122.05" cy="576.20" r="1.65"/>
<circle cx="122.05" cy="578.20" r="1.65"/>
<circle cx="122.05" cy="580.70" r="1.65"/>
<circle cx="122.05" cy="584.10" r="1.65"/>
<circle cx="122.05" cy="586.60" r="1.65"/>
<circle cx="122.05" cy="588.60" r="1.65"/>
<circle cx="122.05" cy="591.10" r="1.65"/>
<circle cx="122.05" cy="594.10" r="1.65"/>
<circle cx="122.05" cy="597.50" r="1.65"/>
<circle cx="122.05" cy="599.20" r="1.65"/>
<circle cx="122.05" cy="600.00" r="1.65"/>
<circle cx="122.05" cy="600.90" r="1.65"/>
<circle cx="122.05" cy="602.30" r="1.65"/>
<circle cx="122.05" cy="603.70" r="1.65"/>
<circle cx="122.05" cy="604.80" r="1.65"/>
<circle cx="122.05" cy="606.20" r="1.65"/>
<circle cx="122.05" cy="606.80" r="1.65"/>
<circle cx="122.05" cy="607.70" r="1.65"/>
<circle cx="122.05" cy="608.60" r="1.65"/>
<circle cx="122.05" cy="609.70" r="1.65"/>
<circle cx="122.05" cy="611.10" r="1.65"/>
<circle cx="122.05" cy="612.20" r="1.65"/>
<circle cx="122.05" cy="612.80" r="1.65"/>
<circle cx="122.05" cy="613.70" r="1.65"/>
<circle cx="122.05" cy="615.70" r="1.65"/>
<circle cx="122.05" cy="616.60" r="1.65"/>
<circle cx="122.05" cy="618.60" r="1.65"/>
<circle cx="122.05" cy="620.00" r="1.65"/>
<circle cx="122.05" cy="622.00" r="1.65"/>
<circle cx="122.05" cy="622.90" r="1.65"/>
<circle cx="122.05" cy="623.80" r="1.65"/>
<circle cx="122.05" cy="624.70" r="1.65"/>
<circle cx="122.05" cy="626.10" r="1.65"/>
<circle cx="122.05" cy="628.10" r="1.65"/>
<circle cx="122.05" cy="629.20" r="1.65"/>
<circle cx="122.05" cy="630.30" r="1.65"/>
<circle cx="122.05" cy="632.30" r="1.65"/>
<circle cx="122.05" cy="632.90" r="1.65"/>
<circle cx="122.05" cy="633.80" r="1.65"/>
<circle cx="122.05" cy="634.40" r="1.65"/>
<circle cx="122.05" cy="635.30" r="1.65"/>
<circle cx="122.05" cy="636.70" r="1.65"/>
<circle cx="122.05" cy="637.60" r="1.65"/>
<circle cx="122.05" cy="639.00" r="1.65"/>
<circle cx="122.05" cy="640.40" r="1.65"/>
<circle cx="122.05" cy="641.00" r="1.65"/>
<circle cx="122.05" cy="642.10" r="1.65"/>
<circle cx="122.05" cy="642.70" r="1.65"/>
<circle cx="122.05" cy="643.60" r="1.65"/>
<circle cx="122.05" cy="645.00" r="1.65"/>
<circle cx="122.05" cy="646.10" r="1.65"/>
<circle cx="122.05" cy="647.00" r="1.65"/>
<circle cx="122.05" cy="649.00" r="1.65"/>
<circle cx="122.05" cy="649.60" r="1.65"/>
<circle cx="122.05" cy="651.00" r="1.65"/>
<circle cx="122.05" cy="652.40" r="1.65"/>
<circle cx="122.05" cy="653.00" r="1.65"/>
<circle cx="122.05" cy="653.60" r="1.65"/>
<circle cx="122.05" cy="654.20" r="1.65"/>
<circle cx="122.05" cy="655.10" r="1.65"/>
<circle cx="122.05" cy="656.20" r="1.65"/>
<circle cx="122.05" cy="658.20" r="1.65"/>
<circle cx="122.05" cy="658.80" r="1.65"/>
<circle cx="122.05" cy="659.40" r="1.65"/>
<circle cx="122.05" cy="660.50" r="1.65"/>
<circle cx="122.05" cy="661.50" r="1.65"/>
<circle cx="134.80" cy="386.40" r="1.65"/>
<circle cx="134.80" cy="426.00" r="1.65"/>
<circle cx="134.80" cy="427.20" r="1.65"/>
<circle cx="134.80" cy="439.60" r="1.65"/>
<circle cx="134.80" cy="442.60" r="1.65"/>
<circle cx="134.80" cy="473.00" r="1.65"/>
<circle cx="134.80" cy="479.50" r="1.65"/>
<circle cx="134.80" cy="498.40" r="1.65"/>
<circle cx="134.80" cy="516.40" r="1.65"/>
<circle cx="134.80" cy="530.80" r="1.65"/>
<circle cx="134.80" cy="537.00" r="1.65"/>
<circle cx="134.80" cy="543.80" r="1.65"/>
<circle cx="134.80" cy="548.10" r="1.65"/>
<circle cx="134.80" cy="554.80" r="1.65"/>
<circle cx="134.80" cy="561.00" r="1.65"/>
<circle cx="134.80" cy="564.40" r="1.65"/>
<circle cx="134.80" cy="570.20" r="1.65"/>
<circle cx="134.80" cy="574.50" r="1.65"/>
<circle cx="134.80" cy="579.80" r="1.65"/>
<circle cx="134.80" cy="582.00" r="1.65"/>
<circle cx="134.80" cy="585.00" r="1.65"/>
<circle cx="134.80" cy="587.50" r="1.65"/>
<circle cx="134.80" cy="601.10" r="1.65"/>
<circle cx="134.80" cy="602.10" r="1.65"/>
<circle cx="134.80" cy="611.30" r="1.65"/>
<circle cx="134.80" cy="626.40" r="1.65"/>
<circle cx="134.80" cy="628.40" r="1.65"/>
<circle cx="134.80" cy="630.40" r="1.65"/>
<circle cx="134.80" cy="631.20" r="1.65"/>
<circle cx="134.80" cy="632.80" r="1.65"/>
<circle cx="134.80" cy="634.80" r="1.65"/>
<circle cx="134.80" cy="637.40" r="1.65"/>
<circle cx="134.80" cy="639.40" r="1.65"/>
<circle cx="134.80" cy="641.40" r="1.65"/>
<circle cx="134.80" cy="642.80" r="1.65"/>
<circle cx="134.80" cy="648.00" r="1.65"/>
<circle cx="134.80" cy="650.00" r="1.65"/>
<circle cx="134.80" cy="652.00" r="1.65"/>
<circle cx="134.80" cy="653.60" r="1.65"/>
<circle cx="134.80" cy="656.20" r="1.65"/>
<circle cx="134.80" cy="657.40" r="1.65"/>
<circle cx="134.80" cy="658.60" r="1.65"/>
<circle cx="134.80" cy="659.40" r="1.65"/>
<circle cx="134.80" cy="661.00" r="1.65"/>
<circle cx="134.80" cy="663.00" r="1.65"/>
<circle cx="134.80" cy="664.20" r="1.65"/>
<circle cx="134.80" cy="665.40" r="1.65"/>
<circle cx="134.80" cy="667.40" r="1.65"/>
<circle cx="134.80" cy="670.00" r="1.65"/>
<circle cx="134.80" cy="670.80" r="1.65"/>
<circle cx="134.80" cy="671.50" r="1.65"/>
<circle cx="147.55" cy="507.50" r="1.65"/>
<circle cx="147.55" cy="520.80" r="1.65"/>
<circle cx="147.55" cy="531.80" r="1.65"/>
<circle cx="147.55" cy="532.80" r="1.65"/>
<circle cx="147.55" cy="542.10" r="1.65"/>
<circle cx="147.55" cy="553.60" r="1.65"/>
<circle cx="147.55" cy="563.00" r="1.65"/>
<circle cx="147.55" cy="567.30" r="1.65"/>
<circle cx="147.55" cy="571.20" r="1.65"/>
<circle cx="147.55" cy="573.60" r="1.65"/>
<circle cx="147.55" cy="580.30" r="1.65"/>
<circle cx="147.55" cy="581.50" r="1.65"/>
<circle cx="147.55" cy="589.60" r="1.65"/>
<circle cx="147.55" cy="590.50" r="1.65"/>
<circle cx="147.55" cy="591.60" r="1.65"/>
<circle cx="147.55" cy="592.70" r="1.65"/>
<circle cx="147.55" cy="594.70" r="1.65"/>
<circle cx="147.55" cy="595.80" r="1.65"/>
<circle cx="147.55" cy="596.70" r="1.65"/>
<circle cx="147.55" cy="597.30" r="1.65"/>
<circle cx="147.55" cy="599.30" r="1.65"/>
<circle cx="147.55" cy="601.30" r="1.65"/>
<circle cx="147.55" cy="602.70" r="1.65"/>
<circle cx="147.55" cy="604.10" r="1.65"/>
<circle cx="147.55" cy="604.70" r="1.65"/>
<circle cx="147.55" cy="606.10" r="1.65"/>
<circle cx="147.55" cy="607.20" r="1.65"/>
<circle cx="147.55" cy="609.20" r="1.65"/>
<circle cx="147.55" cy="610.10" r="1.65"/>
<circle cx="147.55" cy="611.00" r="1.65"/>
<circle cx="147.55" cy="613.00" r="1.65"/>
<circle cx="147.55" cy="614.40" r="1.65"/>
<circle cx="147.55" cy="615.80" r="1.65"/>
<circle cx="147.55" cy="617.20" r="1.65"/>
<circle cx="147.55" cy="618.60" r="1.65"/>
<circle cx="147.55" cy="619.20" r="1.65"/>
<circle cx="147.55" cy="620.30" r="1.65"/>
<circle cx="147.55" cy="621.70" r="1.65"/>
<circle cx="147.55" cy="623.10" r="1.65"/>
<circle cx="147.55" cy="624.20" r="1.65"/>
<circle cx="147.55" cy="624.80" r="1.65"/>
<circle cx="147.55" cy="625.90" r="1.65"/>
<circle cx="147.55" cy="626.80" r="1.65"/>
<circle cx="147.55" cy="627.90" r="1.65"/>
<circle cx="147.55" cy="629.30" r="1.65"/>
<circle cx="147.55" cy="630.20" r="1.65"/>
<circle cx="147.55" cy="630.80" r="1.65"/>
<circle cx="147.55" cy="632.20" r="1.65"/>
<circle cx="147.55" cy="633.30" r="1.65"/>
<circle cx="147.55" cy="634.70" r="1.65"/>
<circle cx="147.55" cy="636.70" r="1.65"/>
<circle cx="147.55" cy="637.30" r="1.65"/>
<circle cx="147.55" cy="637.90" r="1.65"/>
<circle cx="147.55" cy="638.80" r="1.65"/>
<circle cx="147.55" cy="639.90" r="1.65"/>
<circle cx="147.55" cy="640.50" r="1.65"/>
<circle cx="147.55" cy="641.40" r="1.65"/>
<circle cx="147.55" cy="642.00" r="1.65"/>
<circle cx="147.55" cy="643.40" r="1.65"/>
<circle cx="147.55" cy="644.50" r="1.65"/>
<circle cx="147.55" cy="645.40" r="1.65"/>
<circle cx="147.55" cy="645.70" r="1.65"/>
<circle cx="147.55" cy="650.00" r="1.65"/>
<circle cx="160.30" cy="403.50" r="1.65"/>
<circle cx="160.30" cy="437.60" r="1.65"/>
<circle cx="160.30" cy="483.40" r="1.65"/>
<circle cx="160.30" cy="491.80" r="1.65"/>
<circle cx="160.30" cy="500.30" r="1.65"/>
<circle cx="160.30" cy="510.40" r="1.65"/>
<circle cx="160.30" cy="523.20" r="1.65"/>
<circle cx="160.30" cy="538.00" r="1.65"/>
<circle cx="160.30" cy="540.40" r="1.65"/>
<circle cx="160.30" cy="547.60" r="1.65"/>
<circle cx="160.30" cy="560.60" r="1.65"/>
<circle cx="160.30" cy="566.30" r="1.65"/>
<circle cx="160.30" cy="570.20" r="1.65"/>
<circle cx="160.30" cy="573.10" r="1.65"/>
<circle cx="160.30" cy="582.70" r="1.65"/>
<circle cx="160.30" cy="585.80" r="1.65"/>
<circle cx="160.30" cy="590.60" r="1.65"/>
<circle cx="160.30" cy="600.20" r="1.65"/>
<circle cx="160.30" cy="603.60" r="1.65"/>
<circle cx="160.30" cy="606.20" r="1.65"/>
<circle cx="160.30" cy="609.60" r="1.65"/>
<circle cx="160.30" cy="612.20" r="1.65"/>
<circle cx="160.30" cy="614.80" r="1.65"/>
<circle cx="160.30" cy="617.80" r="1.65"/>
<circle cx="160.30" cy="618.50" r="1.65"/>
<circle cx="160.30" cy="618.50" r="1.65"/>
<circle cx="160.30" cy="620.10" r="1.65"/>
<circle cx="160.30" cy="621.70" r="1.65"/>
<circle cx="160.30" cy="622.90" r="1.65"/>
<circle cx="160.30" cy="624.90" r="1.65"/>
<circle cx="160.30" cy="626.90" r="1.65"/>
<circle cx="160.30" cy="627.70" r="1.65"/>
<circle cx="160.30" cy="630.30" r="1.65"/>
<circle cx="160.30" cy="632.30" r="1.65"/>
<circle cx="160.30" cy="634.30" r="1.65"/>
<circle cx="160.30" cy="635.90" r="1.65"/>
<circle cx="160.30" cy="637.90" r="1.65"/>
<circle cx="160.30" cy="639.90" r="1.65"/>
<circle cx="160.30" cy="641.10" r="1.65"/>
<circle cx="160.30" cy="642.70" r="1.65"/>
<circle cx="160.30" cy="643.90" r="1.65"/>
<circle cx="160.30" cy="644.70" r="1.65"/>
<circle cx="160.30" cy="646.70" r="1.65"/>
<circle cx="160.30" cy="649.30" r="1.65"/>
<circle cx="160.30" cy="651.30" r="1.65"/>
<circle cx="160.30" cy="652.10" r="1.65"/>
<circle cx="160.30" cy="653.00" r="1.65"/>
<circle cx="160.30" cy="653.00" r="1.65"/>
<circle cx="160.30" cy="653.50" r="1.65"/>
<circle cx="160.30" cy="654.00" r="1.65"/>
<circle cx="160.30" cy="655.30" r="1.65"/>
<circle cx="160.30" cy="656.30" r="1.65"/>
<circle cx="160.30" cy="657.10" r="1.65"/>
<circle cx="160.30" cy="657.90" r="1.65"/>
<circle cx="160.30" cy="659.20" r="1.65"/>
<circle cx="160.30" cy="660.20" r="1.65"/>
<circle cx="160.30" cy="660.70" r="1.65"/>
<circle cx="160.30" cy="661.50" r="1.65"/>
<circle cx="160.30" cy="662.80" r="1.65"/>
<circle cx="160.30" cy="663.80" r="1.65"/>
<circle cx="160.30" cy="664.30" r="1.65"/>
<circle cx="160.30" cy="664.80" r="1.65"/>
<circle cx="160.30" cy="665.60" r="1.65"/>
<circle cx="160.30" cy="666.60" r="1.65"/>
<circle cx="160.30" cy="667.60" r="1.65"/>
<circle cx="160.30" cy="668.90" r="1.65"/>
<circle cx="160.30" cy="670.20" r="1.65"/>
<circle cx="160.30" cy="671.20" r="1.65"/>
<circle cx="173.05" cy="556.30" r="1.65"/>
<circle cx="173.05" cy="567.80" r="1.65"/>
<circle cx="173.05" cy="594.90" r="1.65"/>
<circle cx="173.05" cy="602.10" r="1.65"/>
<circle cx="173.05" cy="602.70" r="1.65"/>
<circle cx="173.05" cy="603.60" r="1.65"/>
<circle cx="173.05" cy="604.20" r="1.65"/>
<circle cx="173.05" cy="604.80" r="1.65"/>
<circle cx="173.05" cy="606.20" r="1.65"/>
<circle cx="173.05" cy="606.80" r="1.65"/>
<circle cx="173.05" cy="607.70" r="1.65"/>
<circle cx="173.05" cy="609.10" r="1.65"/>
<circle cx="173.05" cy="609.70" r="1.65"/>
<circle cx="173.05" cy="611.10" r="1.65"/>
<circle cx="173.05" cy="612.50" r="1.65"/>
<circle cx="173.05" cy="613.90" r="1.65"/>
<circle cx="173.05" cy="615.00" r="1.65"/>
<circle cx="173.05" cy="617.00" r="1.65"/>
<circle cx="173.05" cy="618.40" r="1.65"/>
<circle cx="173.05" cy="620.40" r="1.65"/>
<circle cx="173.05" cy="621.30" r="1.65"/>
<circle cx="173.05" cy="622.20" r="1.65"/>
<circle cx="173.05" cy="622.80" r="1.65"/>
<circle cx="173.05" cy="624.80" r="1.65"/>
<circle cx="173.05" cy="625.90" r="1.65"/>
<circle cx="173.05" cy="627.90" r="1.65"/>
<circle cx="173.05" cy="628.50" r="1.65"/>
<circle cx="173.05" cy="630.50" r="1.65"/>
<circle cx="173.05" cy="631.40" r="1.65"/>
<circle cx="173.05" cy="632.00" r="1.65"/>
<circle cx="173.05" cy="633.40" r="1.65"/>
<circle cx="173.05" cy="634.80" r="1.65"/>
<circle cx="173.05" cy="635.70" r="1.65"/>
<circle cx="173.05" cy="636.60" r="1.65"/>
<circle cx="173.05" cy="637.50" r="1.65"/>
<circle cx="173.05" cy="639.50" r="1.65"/>
<circle cx="173.05" cy="640.90" r="1.65"/>
<circle cx="173.05" cy="642.00" r="1.65"/>
<circle cx="173.05" cy="642.30" r="1.65"/>
<circle cx="173.05" cy="642.80" r="1.65"/>
<circle cx="173.05" cy="646.60" r="1.65"/>
<circle cx="173.05" cy="650.00" r="1.65"/>
<circle cx="173.05" cy="653.40" r="1.65"/>
<circle cx="173.05" cy="656.40" r="1.65"/>
<circle cx="173.05" cy="656.70" r="1.65"/>
<circle cx="185.80" cy="561.50" r="1.65"/>
<circle cx="185.80" cy="567.00" r="1.65"/>
<circle cx="185.80" cy="585.80" r="1.65"/>
<circle cx="185.80" cy="589.40" r="1.65"/>
<circle cx="185.80" cy="595.20" r="1.65"/>
<circle cx="185.80" cy="599.20" r="1.65"/>
<circle cx="185.80" cy="604.50" r="1.65"/>
<circle cx="185.80" cy="608.80" r="1.65"/>
<circle cx="185.80" cy="610.20" r="1.65"/>
<circle cx="185.80" cy="611.60" r="1.65"/>
<circle cx="185.80" cy="613.00" r="1.65"/>
<circle cx="185.80" cy="613.90" r="1.65"/>
<circle cx="185.80" cy="615.00" r="1.65"/>
<circle cx="185.80" cy="615.60" r="1.65"/>
<circle cx="185.80" cy="617.60" r="1.65"/>
<circle cx="185.80" cy="618.50" r="1.65"/>
<circle cx="185.80" cy="619.60" r="1.65"/>
<circle cx="185.80" cy="621.60" r="1.65"/>
<circle cx="185.80" cy="622.70" r="1.65"/>
<circle cx="185.80" cy="624.70" r="1.65"/>
<circle cx="185.80" cy="626.70" r="1.65"/>
<circle cx="185.80" cy="628.70" r="1.65"/>
<circle cx="185.80" cy="629.80" r="1.65"/>
<circle cx="185.80" cy="630.90" r="1.65"/>
<circle cx="185.80" cy="632.00" r="1.65"/>
<circle cx="185.80" cy="632.90" r="1.65"/>
<circle cx="185.80" cy="633.80" r="1.65"/>
<circle cx="185.80" cy="634.70" r="1.65"/>
<circle cx="185.80" cy="636.10" r="1.65"/>
<circle cx="185.80" cy="636.70" r="1.65"/>
<circle cx="185.80" cy="638.70" r="1.65"/>
<circle cx="185.80" cy="639.80" r="1.65"/>
<circle cx="185.80" cy="640.70" r="1.65"/>
<circle cx="185.80" cy="641.30" r="1.65"/>
<circle cx="185.80" cy="642.40" r="1.65"/>
<circle cx="185.80" cy="643.80" r="1.65"/>
<circle cx="185.80" cy="644.70" r="1.65"/>
<circle cx="185.80" cy="646.70" r="1.65"/>
<circle cx="185.80" cy="647.80" r="1.65"/>
<circle cx="185.80" cy="648.50" r="1.65"/>
<circle cx="185.80" cy="648.50" r="1.65"/>
<circle cx="185.80" cy="651.90" r="1.65"/>
<circle cx="185.80" cy="655.70" r="1.65"/>
<circle cx="185.80" cy="658.30" r="1.65"/>
<circle cx="185.80" cy="661.00" r="1.65"/>
<circle cx="185.80" cy="662.90" r="1.65"/>
<circle cx="198.55" cy="593.30" r="1.65"/>
<circle cx="198.55" cy="597.30" r="1.65"/>
<circle cx="198.55" cy="601.10" r="1.65"/>
<circle cx="198.55" cy="604.10" r="1.65"/>
<circle cx="198.55" cy="607.50" r="1.65"/>
<circle cx="198.55" cy="610.50" r="1.65"/>
<circle cx="198.55" cy="614.30" r="1.65"/>
<circle cx="198.55" cy="615.80" r="1.65"/>
<circle cx="198.55" cy="615.80" r="1.65"/>
<circle cx="198.55" cy="616.90" r="1.65"/>
<circle cx="198.55" cy="618.00" r="1.65"/>
<circle cx="198.55" cy="618.60" r="1.65"/>
<circle cx="198.55" cy="619.20" r="1.65"/>
<circle cx="198.55" cy="621.20" r="1.65"/>
<circle cx="198.55" cy="623.20" r="1.65"/>
<circle cx="198.55" cy="624.30" r="1.65"/>
<circle cx="198.55" cy="626.30" r="1.65"/>
<circle cx="198.55" cy="627.40" r="1.65"/>
<circle cx="198.55" cy="628.80" r="1.65"/>
<circle cx="198.55" cy="630.80" r="1.65"/>
<circle cx="198.55" cy="631.90" r="1.65"/>
<circle cx="198.55" cy="633.00" r="1.65"/>
<circle cx="198.55" cy="634.10" r="1.65"/>
<circle cx="198.55" cy="636.10" r="1.65"/>
<circle cx="198.55" cy="638.10" r="1.65"/>
<circle cx="198.55" cy="639.50" r="1.65"/>
<circle cx="198.55" cy="640.60" r="1.65"/>
<circle cx="198.55" cy="641.70" r="1.65"/>
<circle cx="198.55" cy="642.80" r="1.65"/>
<circle cx="198.55" cy="643.90" r="1.65"/>
<circle cx="198.55" cy="644.80" r="1.65"/>
<circle cx="198.55" cy="646.20" r="1.65"/>
<circle cx="198.55" cy="647.10" r="1.65"/>
<circle cx="198.55" cy="648.20" r="1.65"/>
<circle cx="198.55" cy="649.60" r="1.65"/>
<circle cx="198.55" cy="650.20" r="1.65"/>
<circle cx="198.55" cy="651.10" r="1.65"/>
<circle cx="198.55" cy="651.70" r="1.65"/>
<circle cx="198.55" cy="653.10" r="1.65"/>
<circle cx="198.55" cy="653.70" r="1.65"/>
<circle cx="198.55" cy="655.70" r="1.65"/>
<circle cx="198.55" cy="656.20" r="1.65"/>
<circle cx="211.30" cy="617.20" r="1.65"/>
<circle cx="211.30" cy="619.60" r="1.65"/>
<circle cx="211.30" cy="620.40" r="1.65"/>
<circle cx="211.30" cy="621.70" r="1.65"/>
<circle cx="211.30" cy="622.70" r="1.65"/>
<circle cx="211.30" cy="624.00" r="1.65"/>
<circle cx="211.30" cy="625.00" r="1.65"/>
<circle cx="211.30" cy="625.50" r="1.65"/>
<circle cx="211.30" cy="626.50" r="1.65"/>
<circle cx="211.30" cy="627.30" r="1.65"/>
<circle cx="211.30" cy="628.10" r="1.65"/>
<circle cx="211.30" cy="629.40" r="1.65"/>
<circle cx="211.30" cy="629.90" r="1.65"/>
<circle cx="211.30" cy="630.70" r="1.65"/>
<circle cx="211.30" cy="632.00" r="1.65"/>
<circle cx="211.30" cy="632.50" r="1.65"/>
<circle cx="211.30" cy="633.50" r="1.65"/>
<circle cx="211.30" cy="634.00" r="1.65"/>
<circle cx="211.30" cy="635.00" r="1.65"/>
<circle cx="211.30" cy="635.80" r="1.65"/>
<circle cx="211.30" cy="636.30" r="1.65"/>
<circle cx="211.30" cy="637.10" r="1.65"/>
<circle cx="211.30" cy="637.90" r="1.65"/>
<circle cx="211.30" cy="638.90" r="1.65"/>
<circle cx="211.30" cy="639.90" r="1.65"/>
<circle cx="211.30" cy="641.20" r="1.65"/>
<circle cx="211.30" cy="642.20" r="1.65"/>
<circle cx="211.30" cy="643.50" r="1.65"/>
<circle cx="211.30" cy="644.30" r="1.65"/>
<circle cx="211.30" cy="645.10" r="1.65"/>
<circle cx="211.30" cy="645.60" r="1.65"/>
<circle cx="211.30" cy="646.10" r="1.65"/>
<circle cx="211.30" cy="647.10" r="1.65"/>
<circle cx="211.30" cy="648.40" r="1.65"/>
<circle cx="211.30" cy="649.20" r="1.65"/>
<circle cx="211.30" cy="649.70" r="1.65"/>
<circle cx="211.30" cy="650.20" r="1.65"/>
<circle cx="211.30" cy="651.20" r="1.65"/>
<circle cx="211.30" cy="652.00" r="1.65"/>
<circle cx="211.30" cy="652.80" r="1.65"/>
<circle cx="211.30" cy="653.60" r="1.65"/>
<circle cx="211.30" cy="654.20" r="1.65"/>
<circle cx="211.30" cy="658.80" r="1.65"/>
<circle cx="224.05" cy="599.70" r="1.65"/>
<circle cx="224.05" cy="605.00" r="1.65"/>
<circle cx="224.05" cy="611.90" r="1.65"/>
<circle cx="224.05" cy="612.60" r="1.65"/>
<circle cx="224.05" cy="616.30" r="1.65"/>
<circle cx="224.05" cy="620.10" r="1.65"/>
<circle cx="224.05" cy="623.50" r="1.65"/>
<circle cx="224.05" cy="624.80" r="1.65"/>
<circle cx="224.05" cy="626.10" r="1.65"/>
<circle cx="224.05" cy="626.60" r="1.65"/>
<circle cx="224.05" cy="627.90" r="1.65"/>
<circle cx="224.05" cy="628.70" r="1.65"/>
<circle cx="224.05" cy="630.00" r="1.65"/>
<circle cx="224.05" cy="631.00" r="1.65"/>
<circle cx="224.05" cy="632.00" r="1.65"/>
<circle cx="224.05" cy="632.50" r="1.65"/>
<circle cx="224.05" cy="633.80" r="1.65"/>
<circle cx="224.05" cy="634.60" r="1.65"/>
<circle cx="224.05" cy="635.40" r="1.65"/>
<circle cx="224.05" cy="635.90" r="1.65"/>
<circle cx="224.05" cy="636.40" r="1.65"/>
<circle cx="224.05" cy="637.20" r="1.65"/>
<circle cx="224.05" cy="638.50" r="1.65"/>
<circle cx="224.05" cy="639.30" r="1.65"/>
<circle cx="224.05" cy="640.30" r="1.65"/>
<circle cx="224.05" cy="641.10" r="1.65"/>
<circle cx="224.05" cy="641.90" r="1.65"/>
<circle cx="224.05" cy="642.70" r="1.65"/>
<circle cx="224.05" cy="643.50" r="1.65"/>
<circle cx="224.05" cy="644.50" r="1.65"/>
<circle cx="224.05" cy="645.00" r="1.65"/>
<circle cx="224.05" cy="645.80" r="1.65"/>
<circle cx="224.05" cy="647.10" r="1.65"/>
<circle cx="224.05" cy="648.10" r="1.65"/>
<circle cx="224.05" cy="648.90" r="1.65"/>
<circle cx="224.05" cy="649.70" r="1.65"/>
<circle cx="224.05" cy="650.20" r="1.65"/>
<circle cx="224.05" cy="650.70" r="1.65"/>
<circle cx="224.05" cy="651.20" r="1.65"/>
<circle cx="224.05" cy="652.00" r="1.65"/>
<circle cx="224.05" cy="653.00" r="1.65"/>
<circle cx="224.05" cy="654.00" r="1.65"/>
<circle cx="224.05" cy="654.80" r="1.65"/>
<circle cx="224.05" cy="655.80" r="1.65"/>
<circle cx="224.05" cy="656.60" r="1.65"/>
<circle cx="224.05" cy="657.10" r="1.65"/>
<circle cx="224.05" cy="657.00" r="1.65"/>
<circle cx="224.05" cy="660.00" r="1.65"/>
<circle cx="224.05" cy="661.00" r="1.65"/>
<circle cx="236.80" cy="599.40" r="1.65"/>
<circle cx="236.80" cy="605.40" r="1.65"/>
<circle cx="236.80" cy="607.00" r="1.65"/>
<circle cx="236.80" cy="608.20" r="1.65"/>
<circle cx="236.80" cy="609.80" r="1.65"/>
<circle cx="236.80" cy="611.80" r="1.65"/>
<circle cx="236.80" cy="613.40" r="1.65"/>
<circle cx="236.80" cy="614.20" r="1.65"/>
<circle cx="236.80" cy="616.80" r="1.65"/>
<circle cx="236.80" cy="618.00" r="1.65"/>
<circle cx="236.80" cy="619.20" r="1.65"/>
<circle cx="236.80" cy="620.40" r="1.65"/>
<circle cx="236.80" cy="621.20" r="1.65"/>
<circle cx="236.80" cy="622.00" r="1.65"/>
<circle cx="236.80" cy="623.20" r="1.65"/>
<circle cx="236.80" cy="624.80" r="1.65"/>
<circle cx="236.80" cy="626.40" r="1.65"/>
<circle cx="236.80" cy="628.00" r="1.65"/>
<circle cx="236.80" cy="630.00" r="1.65"/>
<circle cx="236.80" cy="632.60" r="1.65"/>
<circle cx="236.80" cy="635.20" r="1.65"/>
<circle cx="236.80" cy="636.40" r="1.65"/>
<circle cx="236.80" cy="637.60" r="1.65"/>
<circle cx="236.80" cy="638.60" r="1.65"/>
<circle cx="236.80" cy="638.60" r="1.65"/>
<circle cx="236.80" cy="639.90" r="1.65"/>
<circle cx="236.80" cy="640.90" r="1.65"/>
<circle cx="236.80" cy="641.90" r="1.65"/>
<circle cx="236.80" cy="643.20" r="1.65"/>
<circle cx="236.80" cy="644.00" r="1.65"/>
<circle cx="236.80" cy="645.30" r="1.65"/>
<circle cx="236.80" cy="646.60" r="1.65"/>
<circle cx="236.80" cy="647.90" r="1.65"/>
<circle cx="236.80" cy="649.20" r="1.65"/>
<circle cx="236.80" cy="650.50" r="1.65"/>
<circle cx="236.80" cy="651.30" r="1.65"/>
<circle cx="236.80" cy="652.60" r="1.65"/>
<circle cx="236.80" cy="653.90" r="1.65"/>
<circle cx="236.80" cy="654.40" r="1.65"/>
<circle cx="236.80" cy="655.20" r="1.65"/>
<circle cx="236.80" cy="655.70" r="1.65"/>
<circle cx="236.80" cy="657.00" r="1.65"/>
<circle cx="236.80" cy="658.30" r="1.65"/>
<circle cx="236.80" cy="658.80" r="1.65"/>
<circle cx="236.80" cy="660.10" r="1.65"/>
<circle cx="236.80" cy="660.60" r="1.65"/>
<circle cx="236.80" cy="661.90" r="1.65"/>
<circle cx="236.80" cy="662.40" r="1.65"/>
<circle cx="236.80" cy="663.70" r="1.65"/>
<circle cx="236.80" cy="664.20" r="1.65"/>
<circle cx="236.80" cy="665.50" r="1.65"/>
<circle cx="236.80" cy="666.80" r="1.65"/>
<circle cx="236.80" cy="667.30" r="1.65"/>
<circle cx="236.80" cy="668.10" r="1.65"/>
<circle cx="236.80" cy="668.60" r="1.65"/>
<circle cx="236.80" cy="669.10" r="1.65"/>
<circle cx="236.80" cy="669.60" r="1.65"/>
<circle cx="236.80" cy="670.20" r="1.65"/>
<circle cx="249.55" cy="627.70" r="1.65"/>
<circle cx="249.55" cy="630.50" r="1.65"/>
<circle cx="249.55" cy="633.50" r="1.65"/>
<circle cx="249.55" cy="636.40" r="1.65"/>
<circle cx="249.55" cy="636.40" r="1.65"/>
<circle cx="249.55" cy="636.90" r="1.65"/>
<circle cx="249.55" cy="637.40" r="1.65"/>
<circle cx="249.55" cy="637.90" r="1.65"/>
<circle cx="249.55" cy="638.40" r="1.65"/>
<circle cx="249.55" cy="639.40" r="1.65"/>
<circle cx="249.55" cy="640.20" r="1.65"/>
<circle cx="249.55" cy="641.50" r="1.65"/>
<circle cx="249.55" cy="642.50" r="1.65"/>
<circle cx="249.55" cy="643.00" r="1.65"/>
<circle cx="249.55" cy="643.50" r="1.65"/>
<circle cx="249.55" cy="644.50" r="1.65"/>
<circle cx="249.55" cy="645.00" r="1.65"/>
<circle cx="249.55" cy="645.80" r="1.65"/>
<circle cx="249.55" cy="647.10" r="1.65"/>
<circle cx="249.55" cy="648.10" r="1.65"/>
<circle cx="249.55" cy="648.90" r="1.65"/>
<circle cx="249.55" cy="650.20" r="1.65"/>
<circle cx="249.55" cy="651.00" r="1.65"/>
<circle cx="249.55" cy="651.50" r="1.65"/>
<circle cx="249.55" cy="652.80" r="1.65"/>
<circle cx="249.55" cy="653.60" r="1.65"/>
<circle cx="249.55" cy="654.40" r="1.65"/>
<circle cx="249.55" cy="655.40" r="1.65"/>
<circle cx="249.55" cy="656.40" r="1.65"/>
<circle cx="249.55" cy="657.40" r="1.65"/>
<circle cx="249.55" cy="658.40" r="1.65"/>
<circle cx="249.55" cy="659.20" r="1.65"/>
<circle cx="249.55" cy="660.00" r="1.65"/>
<circle cx="249.55" cy="660.50" r="1.65"/>
<circle cx="249.55" cy="661.50" r="1.65"/>
<circle cx="249.55" cy="662.30" r="1.65"/>
<circle cx="249.55" cy="663.30" r="1.65"/>
<circle cx="249.55" cy="664.30" r="1.65"/>
<circle cx="249.55" cy="665.10" r="1.65"/>
<circle cx="249.55" cy="665.90" r="1.65"/>
<circle cx="262.30" cy="615.70" r="1.65"/>
<circle cx="262.30" cy="621.50" r="1.65"/>
<circle cx="262.30" cy="631.50" r="1.65"/>
<circle cx="262.30" cy="632.00" r="1.65"/>
<circle cx="262.30" cy="632.80" r="1.65"/>
<circle cx="262.30" cy="634.10" r="1.65"/>
<circle cx="262.30" cy="635.40" r="1.65"/>
<circle cx="262.30" cy="636.70" r="1.65"/>
<circle cx="262.30" cy="637.70" r="1.65"/>
<circle cx="262.30" cy="638.50" r="1.65"/>
<circle cx="262.30" cy="639.80" r="1.65"/>
<circle cx="262.30" cy="641.10" r="1.65"/>
<circle cx="262.30" cy="641.90" r="1.65"/>
<circle cx="262.30" cy="642.40" r="1.65"/>
<circle cx="262.30" cy="643.70" r="1.65"/>
<circle cx="262.30" cy="644.20" r="1.65"/>
<circle cx="262.30" cy="644.70" r="1.65"/>
<circle cx="262.30" cy="645.70" r="1.65"/>
<circle cx="262.30" cy="646.70" r="1.65"/>
<circle cx="262.30" cy="647.20" r="1.65"/>
<circle cx="262.30" cy="647.70" r="1.65"/>
<circle cx="262.30" cy="649.00" r="1.65"/>
<circle cx="262.30" cy="649.50" r="1.65"/>
<circle cx="262.30" cy="650.80" r="1.65"/>
<circle cx="262.30" cy="651.30" r="1.65"/>
<circle cx="262.30" cy="651.80" r="1.65"/>
<circle cx="262.30" cy="652.60" r="1.65"/>
<circle cx="262.30" cy="653.40" r="1.65"/>
<circle cx="262.30" cy="654.70" r="1.65"/>
<circle cx="262.30" cy="655.70" r="1.65"/>
<circle cx="262.30" cy="656.50" r="1.65"/>
<circle cx="262.30" cy="657.30" r="1.65"/>
<circle cx="262.30" cy="658.10" r="1.65"/>
<circle cx="262.30" cy="658.60" r="1.65"/>
<circle cx="262.30" cy="659.10" r="1.65"/>
<circle cx="262.30" cy="659.90" r="1.65"/>
<circle cx="262.30" cy="660.90" r="1.65"/>
<circle cx="262.30" cy="661.40" r="1.65"/>
<circle cx="262.30" cy="662.20" r="1.65"/>
<circle cx="262.30" cy="662.70" r="1.65"/>
<circle cx="262.30" cy="663.20" r="1.65"/>
<circle cx="262.30" cy="664.50" r="1.65"/>
<circle cx="262.30" cy="665.80" r="1.65"/>
<circle cx="262.30" cy="666.80" r="1.65"/>
<circle cx="262.30" cy="667.30" r="1.65"/>
<circle cx="262.30" cy="668.10" r="1.65"/>
<circle cx="262.30" cy="669.20" r="1.65"/>
<circle cx="275.05" cy="429.20" r="1.65"/>
<circle cx="275.05" cy="490.60" r="1.65"/>
<circle cx="275.05" cy="540.00" r="1.65"/>
<circle cx="275.05" cy="560.40" r="1.65"/>
<circle cx="275.05" cy="607.20" r="1.65"/>
<circle cx="275.05" cy="607.90" r="1.65"/>
<circle cx="275.05" cy="625.50" r="1.65"/>
<circle cx="275.05" cy="629.00" r="1.65"/>
<circle cx="275.05" cy="632.60" r="1.65"/>
<circle cx="275.05" cy="638.00" r="1.65"/>
<circle cx="275.05" cy="640.00" r="1.65"/>
<circle cx="275.05" cy="640.90" r="1.65"/>
<circle cx="275.05" cy="642.90" r="1.65"/>
<circle cx="275.05" cy="644.00" r="1.65"/>
<circle cx="275.05" cy="645.40" r="1.65"/>
<circle cx="275.05" cy="646.50" r="1.65"/>
<circle cx="275.05" cy="647.60" r="1.65"/>
<circle cx="275.05" cy="648.70" r="1.65"/>
<circle cx="275.05" cy="649.50" r="1.65"/>
<circle cx="275.05" cy="649.50" r="1.65"/>
<circle cx="275.05" cy="650.30" r="1.65"/>
<circle cx="275.05" cy="651.30" r="1.65"/>
<circle cx="275.05" cy="652.10" r="1.65"/>
<circle cx="275.05" cy="653.10" r="1.65"/>
<circle cx="275.05" cy="653.90" r="1.65"/>
<circle cx="275.05" cy="654.70" r="1.65"/>
<circle cx="275.05" cy="655.20" r="1.65"/>
<circle cx="275.05" cy="656.00" r="1.65"/>
<circle cx="275.05" cy="656.80" r="1.65"/>
<circle cx="275.05" cy="657.30" r="1.65"/>
<circle cx="275.05" cy="658.10" r="1.65"/>
<circle cx="275.05" cy="658.60" r="1.65"/>
<circle cx="275.05" cy="659.90" r="1.65"/>
<circle cx="275.05" cy="660.90" r="1.65"/>
<circle cx="275.05" cy="661.70" r="1.65"/>
<circle cx="275.05" cy="663.00" r="1.65"/>
<circle cx="275.05" cy="664.30" r="1.65"/>
<circle cx="275.05" cy="664.80" r="1.65"/>
<circle cx="275.05" cy="665.80" r="1.65"/>
<circle cx="275.05" cy="666.80" r="1.65"/>
<circle cx="275.05" cy="667.30" r="1.65"/>
<circle cx="275.05" cy="668.30" r="1.65"/>
<circle cx="275.05" cy="668.80" r="1.65"/>
<circle cx="275.05" cy="669.30" r="1.65"/>
<circle cx="275.05" cy="669.80" r="1.65"/>
<circle cx="275.05" cy="670.30" r="1.65"/>
<circle cx="275.05" cy="671.30" r="1.65"/>
<circle cx="275.05" cy="672.00" r="1.65"/>
<circle cx="287.80" cy="503.10" r="1.65"/>
<circle cx="287.80" cy="560.40" r="1.65"/>
<circle cx="287.80" cy="576.80" r="1.65"/>
<circle cx="287.80" cy="609.80" r="1.65"/>
<circle cx="287.80" cy="622.30" r="1.65"/>
<circle cx="287.80" cy="628.80" r="1.65"/>
<circle cx="287.80" cy="631.80" r="1.65"/>
<circle cx="287.80" cy="635.60" r="1.65"/>
<circle cx="287.80" cy="638.60" r="1.65"/>
<circle cx="287.80" cy="640.00" r="1.65"/>
<circle cx="287.80" cy="643.80" r="1.65"/>
<circle cx="287.80" cy="647.50" r="1.65"/>
<circle cx="287.80" cy="648.80" r="1.65"/>
<circle cx="287.80" cy="649.30" r="1.65"/>
<circle cx="287.80" cy="650.30" r="1.65"/>
<circle cx="287.80" cy="651.30" r="1.65"/>
<circle cx="287.80" cy="652.60" r="1.65"/>
<circle cx="287.80" cy="653.90" r="1.65"/>
<circle cx="287.80" cy="655.20" r="1.65"/>
<circle cx="287.80" cy="656.50" r="1.65"/>
<circle cx="287.80" cy="657.50" r="1.65"/>
<circle cx="287.80" cy="658.50" r="1.65"/>
<circle cx="287.80" cy="659.50" r="1.65"/>
<circle cx="287.80" cy="660.80" r="1.65"/>
<circle cx="287.80" cy="661.80" r="1.65"/>
<circle cx="287.80" cy="663.10" r="1.65"/>
<circle cx="287.80" cy="663.90" r="1.65"/>
<circle cx="287.80" cy="664.90" r="1.65"/>
<circle cx="287.80" cy="665.90" r="1.65"/>
<circle cx="287.80" cy="666.90" r="1.65"/>
<circle cx="287.80" cy="667.70" r="1.65"/>
<circle cx="287.80" cy="668.20" r="1.65"/>
<circle cx="287.80" cy="669.20" r="1.65"/>
<circle cx="287.80" cy="669.70" r="1.65"/>
<circle cx="287.80" cy="671.00" r="1.65"/>
<circle cx="287.80" cy="671.90" r="1.65"/>
<circle cx="300.55" cy="612.80" r="1.65"/>
<circle cx="300.55" cy="633.80" r="1.65"/>
<circle cx="300.55" cy="637.60" r="1.65"/>
<circle cx="300.55" cy="641.40" r="1.65"/>
<circle cx="300.55" cy="643.80" r="1.65"/>
<circle cx="300.55" cy="643.80" r="1.65"/>
<circle cx="300.55" cy="644.30" r="1.65"/>
<circle cx="300.55" cy="645.60" r="1.65"/>
<circle cx="300.55" cy="646.60" r="1.65"/>
<circle cx="300.55" cy="647.90" r="1.65"/>
<circle cx="300.55" cy="649.20" r="1.65"/>
<circle cx="300.55" cy="650.50" r="1.65"/>
<circle cx="300.55" cy="651.50" r="1.65"/>
<circle cx="300.55" cy="652.30" r="1.65"/>
<circle cx="300.55" cy="653.10" r="1.65"/>
<circle cx="300.55" cy="654.40" r="1.65"/>
<circle cx="300.55" cy="655.40" r="1.65"/>
<circle cx="300.55" cy="656.40" r="1.65"/>
<circle cx="300.55" cy="656.90" r="1.65"/>
<circle cx="300.55" cy="657.40" r="1.65"/>
<circle cx="300.55" cy="658.20" r="1.65"/>
<circle cx="300.55" cy="659.50" r="1.65"/>
<circle cx="300.55" cy="660.30" r="1.65"/>
<circle cx="300.55" cy="661.10" r="1.65"/>
<circle cx="300.55" cy="662.10" r="1.65"/>
<circle cx="300.55" cy="662.90" r="1.65"/>
<circle cx="300.55" cy="663.90" r="1.65"/>
<circle cx="300.55" cy="664.90" r="1.65"/>
<circle cx="300.55" cy="665.40" r="1.65"/>
<circle cx="300.55" cy="666.70" r="1.65"/>
<circle cx="300.55" cy="667.20" r="1.65"/>
<circle cx="300.55" cy="667.70" r="1.65"/>
<circle cx="300.55" cy="669.00" r="1.65"/>
<circle cx="300.55" cy="670.00" r="1.65"/>
<circle cx="300.55" cy="670.50" r="1.65"/>
<circle cx="300.55" cy="671.90" r="1.65"/>
<circle cx="313.30" cy="651.50" r="1.65"/>
<circle cx="313.30" cy="652.80" r="1.65"/>
<circle cx="313.30" cy="653.80" r="1.65"/>
<circle cx="313.30" cy="655.10" r="1.65"/>
<circle cx="313.30" cy="655.60" r="1.65"/>
<circle cx="313.30" cy="656.60" r="1.65"/>
<circle cx="313.30" cy="657.60" r="1.65"/>
<circle cx="313.30" cy="658.10" r="1.65"/>
<circle cx="313.30" cy="658.90" r="1.65"/>
<circle cx="313.30" cy="660.20" r="1.65"/>
<circle cx="313.30" cy="661.00" r="1.65"/>
<circle cx="313.30" cy="662.00" r="1.65"/>
<circle cx="313.30" cy="663.30" r="1.65"/>
<circle cx="313.30" cy="664.30" r="1.65"/>
<circle cx="313.30" cy="664.80" r="1.65"/>
<circle cx="313.30" cy="665.60" r="1.65"/>
<circle cx="313.30" cy="666.90" r="1.65"/>
<circle cx="313.30" cy="667.70" r="1.65"/>
<circle cx="313.30" cy="668.20" r="1.65"/>
<circle cx="313.30" cy="669.00" r="1.65"/>
<circle cx="313.30" cy="670.00" r="1.65"/>
<circle cx="313.30" cy="670.80" r="1.65"/>
<circle cx="313.30" cy="671.60" r="1.65"/>
<circle cx="313.30" cy="671.90" r="1.65"/>
<circle cx="326.05" cy="578.50" r="1.65"/>
<circle cx="326.05" cy="616.50" r="1.65"/>
<circle cx="326.05" cy="625.60" r="1.65"/>
<circle cx="326.05" cy="633.80" r="1.65"/>
<circle cx="326.05" cy="644.40" r="1.65"/>
<circle cx="326.05" cy="647.80" r="1.65"/>
<circle cx="326.05" cy="650.80" r="1.65"/>
<circle cx="326.05" cy="653.30" r="1.65"/>
<circle cx="326.05" cy="655.00" r="1.65"/>
<circle cx="326.05" cy="655.00" r="1.65"/>
<circle cx="326.05" cy="655.80" r="1.65"/>
<circle cx="326.05" cy="656.60" r="1.65"/>
<circle cx="326.05" cy="657.90" r="1.65"/>
<circle cx="326.05" cy="658.90" r="1.65"/>
<circle cx="326.05" cy="660.20" r="1.65"/>
<circle cx="326.05" cy="661.00" r="1.65"/>
<circle cx="326.05" cy="661.50" r="1.65"/>
<circle cx="326.05" cy="662.00" r="1.65"/>
<circle cx="326.05" cy="663.30" r="1.65"/>
<circle cx="326.05" cy="664.10" r="1.65"/>
<circle cx="326.05" cy="664.60" r="1.65"/>
<circle cx="326.05" cy="665.90" r="1.65"/>
<circle cx="326.05" cy="667.20" r="1.65"/>
<circle cx="326.05" cy="668.20" r="1.65"/>
<circle cx="326.05" cy="669.50" r="1.65"/>
<circle cx="326.05" cy="670.00" r="1.65"/>
<circle cx="326.05" cy="671.00" r="1.65"/>
<circle cx="326.05" cy="671.90" r="1.65"/>
<circle cx="338.80" cy="641.00" r="1.65"/>
<circle cx="338.80" cy="644.40" r="1.65"/>
<circle cx="338.80" cy="644.90" r="1.65"/>
<circle cx="338.80" cy="645.90" r="1.65"/>
<circle cx="338.80" cy="647.20" r="1.65"/>
<circle cx="338.80" cy="648.00" r="1.65"/>
<circle cx="338.80" cy="648.80" r="1.65"/>
<circle cx="338.80" cy="650.10" r="1.65"/>
<circle cx="338.80" cy="651.10" r="1.65"/>
<circle cx="338.80" cy="651.90" r="1.65"/>
<circle cx="338.80" cy="652.90" r="1.65"/>
<circle cx="338.80" cy="654.20" r="1.65"/>
<circle cx="338.80" cy="654.70" r="1.65"/>
<circle cx="338.80" cy="655.70" r="1.65"/>
<circle cx="338.80" cy="656.50" r="1.65"/>
<circle cx="338.80" cy="657.30" r="1.65"/>
<circle cx="338.80" cy="657.80" r="1.65"/>
<circle cx="338.80" cy="658.60" r="1.65"/>
<circle cx="338.80" cy="659.60" r="1.65"/>
<circle cx="338.80" cy="660.90" r="1.65"/>
<circle cx="338.80" cy="661.70" r="1.65"/>
<circle cx="338.80" cy="662.70" r="1.65"/>
<circle cx="338.80" cy="664.00" r="1.65"/>
<circle cx="338.80" cy="664.50" r="1.65"/>
<circle cx="338.80" cy="665.80" r="1.65"/>
<circle cx="338.80" cy="666.30" r="1.65"/>
<circle cx="338.80" cy="666.80" r="1.65"/>
<circle cx="338.80" cy="667.80" r="1.65"/>
<circle cx="338.80" cy="668.60" r="1.65"/>
<circle cx="338.80" cy="669.40" r="1.65"/>
<circle cx="338.80" cy="670.40" r="1.65"/>
<circle cx="338.80" cy="671.20" r="1.65"/>
<circle cx="338.80" cy="671.90" r="1.65"/>
<circle cx="351.55" cy="643.60" r="1.65"/>
<circle cx="351.55" cy="654.00" r="1.65"/>
<circle cx="351.55" cy="654.80" r="1.65"/>
<circle cx="351.55" cy="655.80" r="1.65"/>
<circle cx="351.55" cy="656.80" r="1.65"/>
<circle cx="351.55" cy="657.30" r="1.65"/>
<circle cx="351.55" cy="658.10" r="1.65"/>
<circle cx="351.55" cy="658.60" r="1.65"/>
<circle cx="351.55" cy="659.10" r="1.65"/>
<circle cx="351.55" cy="659.60" r="1.65"/>
<circle cx="351.55" cy="660.10" r="1.65"/>
<circle cx="351.55" cy="661.40" r="1.65"/>
<circle cx="351.55" cy="662.40" r="1.65"/>
<circle cx="351.55" cy="663.20" r="1.65"/>
<circle cx="351.55" cy="664.20" r="1.65"/>
<circle cx="351.55" cy="665.00" r="1.65"/>
<circle cx="351.55" cy="665.80" r="1.65"/>
<circle cx="351.55" cy="666.60" r="1.65"/>
<circle cx="351.55" cy="667.60" r="1.65"/>
<circle cx="351.55" cy="668.10" r="1.65"/>
<circle cx="351.55" cy="669.10" r="1.65"/>
<circle cx="351.55" cy="669.60" r="1.65"/>
<circle cx="351.55" cy="670.60" r="1.65"/>
<circle cx="351.55" cy="671.90" r="1.65"/>
<circle cx="364.30" cy="638.00" r="1.65"/>
<circle cx="364.30" cy="642.70" r="1.65"/>
<circle cx="364.30" cy="647.00" r="1.65"/>
<circle cx="364.30" cy="648.00" r="1.65"/>
<circle cx="364.30" cy="648.80" r="1.65"/>
<circle cx="364.30" cy="650.10" r="1.65"/>
<circle cx="364.30" cy="650.60" r="1.65"/>
<circle cx="364.30" cy="651.60" r="1.65"/>
<circle cx="364.30" cy="652.60" r="1.65"/>
<circle cx="364.30" cy="653.10" r="1.65"/>
<circle cx="364.30" cy="654.10" r="1.65"/>
<circle cx="364.30" cy="654.60" r="1.65"/>
<circle cx="364.30" cy="655.10" r="1.65"/>
<circle cx="364.30" cy="656.10" r="1.65"/>
<circle cx="364.30" cy="656.90" r="1.65"/>
<circle cx="364.30" cy="657.70" r="1.65"/>
<circle cx="364.30" cy="658.20" r="1.65"/>
<circle cx="364.30" cy="659.50" r="1.65"/>
<circle cx="364.30" cy="660.50" r="1.65"/>
<circle cx="364.30" cy="661.50" r="1.65"/>
<circle cx="364.30" cy="662.30" r="1.65"/>
<circle cx="364.30" cy="663.10" r="1.65"/>
<circle cx="364.30" cy="663.90" r="1.65"/>
<circle cx="364.30" cy="664.70" r="1.65"/>
<circle cx="364.30" cy="666.00" r="1.65"/>
<circle cx="364.30" cy="667.30" r="1.65"/>
<circle cx="364.30" cy="668.10" r="1.65"/>
<circle cx="364.30" cy="669.40" r="1.65"/>
<circle cx="364.30" cy="670.70" r="1.65"/>
<circle cx="364.30" cy="671.20" r="1.65"/>
<circle cx="364.30" cy="671.90" r="1.65"/>
<circle cx="377.05" cy="601.70" r="1.65"/>
<circle cx="377.05" cy="620.90" r="1.65"/>
<circle cx="377.05" cy="624.60" r="1.65"/>
<circle cx="377.05" cy="635.30" r="1.65"/>
<circle cx="377.05" cy="639.70" r="1.65"/>
<circle cx="377.05" cy="642.20" r="1.65"/>
<circle cx="377.05" cy="644.20" r="1.65"/>
<circle cx="377.05" cy="646.20" r="1.65"/>
<circle cx="377.05" cy="648.70" r="1.65"/>
<circle cx="377.05" cy="651.70" r="1.65"/>
<circle cx="377.05" cy="654.20" r="1.65"/>
<circle cx="377.05" cy="655.00" r="1.65"/>
<circle cx="377.05" cy="655.00" r="1.65"/>
<circle cx="377.05" cy="655.80" r="1.65"/>
<circle cx="377.05" cy="656.60" r="1.65"/>
<circle cx="377.05" cy="657.90" r="1.65"/>
<circle cx="377.05" cy="659.20" r="1.65"/>
<circle cx="377.05" cy="660.20" r="1.65"/>
<circle cx="377.05" cy="661.50" r="1.65"/>
<circle cx="377.05" cy="662.00" r="1.65"/>
<circle cx="377.05" cy="662.50" r="1.65"/>
<circle cx="377.05" cy="663.30" r="1.65"/>
<circle cx="377.05" cy="664.60" r="1.65"/>
<circle cx="377.05" cy="665.60" r="1.65"/>
<circle cx="377.05" cy="666.40" r="1.65"/>
<circle cx="377.05" cy="666.90" r="1.65"/>
<circle cx="377.05" cy="667.70" r="1.65"/>
<circle cx="377.05" cy="669.00" r="1.65"/>
<circle cx="377.05" cy="669.50" r="1.65"/>
<circle cx="377.05" cy="670.80" r="1.65"/>
<circle cx="377.05" cy="671.30" r="1.65"/>
<circle cx="377.05" cy="672.00" r="1.65"/>
<circle cx="389.80" cy="650.90" r="1.65"/>
<circle cx="389.80" cy="656.50" r="1.65"/>
<circle cx="389.80" cy="661.00" r="1.65"/>
<circle cx="389.80" cy="661.80" r="1.65"/>
<circle cx="389.80" cy="662.80" r="1.65"/>
<circle cx="389.80" cy="663.80" r="1.65"/>
<circle cx="389.80" cy="665.10" r="1.65"/>
<circle cx="389.80" cy="666.40" r="1.65"/>
<circle cx="389.80" cy="667.70" r="1.65"/>
<circle cx="389.80" cy="669.00" r="1.65"/>
<circle cx="389.80" cy="669.50" r="1.65"/>
<circle cx="389.80" cy="670.00" r="1.65"/>
<circle cx="389.80" cy="670.50" r="1.65"/>
<circle cx="389.80" cy="672.00" r="1.65"/>
<circle cx="402.55" cy="652.10" r="1.65"/>
<circle cx="402.55" cy="657.70" r="1.65"/>
<circle cx="402.55" cy="658.70" r="1.65"/>
<circle cx="402.55" cy="659.50" r="1.65"/>
<circle cx="402.55" cy="660.30" r="1.65"/>
<circle cx="402.55" cy="661.60" r="1.65"/>
<circle cx="402.55" cy="662.90" r="1.65"/>
<circle cx="402.55" cy="663.40" r="1.65"/>
<circle cx="402.55" cy="664.40" r="1.65"/>
<circle cx="402.55" cy="665.40" r="1.65"/>
<circle cx="402.55" cy="665.90" r="1.65"/>
<circle cx="402.55" cy="666.40" r="1.65"/>
<circle cx="402.55" cy="667.70" r="1.65"/>
<circle cx="402.55" cy="668.50" r="1.65"/>
<circle cx="402.55" cy="669.50" r="1.65"/>
<circle cx="402.55" cy="670.30" r="1.65"/>
<circle cx="402.55" cy="671.30" r="1.65"/>
<circle cx="402.55" cy="672.00" r="1.65"/>
<circle cx="415.30" cy="657.80" r="1.65"/>
<circle cx="415.30" cy="662.00" r="1.65"/>
<circle cx="415.30" cy="663.30" r="1.65"/>
<circle cx="415.30" cy="664.60" r="1.65"/>
<circle cx="415.30" cy="665.10" r="1.65"/>
<circle cx="415.30" cy="666.40" r="1.65"/>
<circle cx="415.30" cy="667.70" r="1.65"/>
<circle cx="415.30" cy="668.20" r="1.65"/>
<circle cx="415.30" cy="668.70" r="1.65"/>
<circle cx="415.30" cy="669.50" r="1.65"/>
<circle cx="415.30" cy="670.50" r="1.65"/>
<circle cx="415.30" cy="671.50" r="1.65"/>
<circle cx="415.30" cy="672.00" r="1.65"/>
<circle cx="428.05" cy="642.00" r="1.65"/>
<circle cx="428.05" cy="657.80" r="1.65"/>
<circle cx="428.05" cy="663.00" r="1.65"/>
<circle cx="428.05" cy="663.80" r="1.65"/>
<circle cx="428.05" cy="664.80" r="1.65"/>
<circle cx="428.05" cy="665.80" r="1.65"/>
<circle cx="428.05" cy="666.80" r="1.65"/>
<circle cx="428.05" cy="667.60" r="1.65"/>
<circle cx="428.05" cy="668.40" r="1.65"/>
<circle cx="428.05" cy="669.40" r="1.65"/>
<circle cx="428.05" cy="670.70" r="1.65"/>
<circle cx="428.05" cy="672.00" r="1.65"/>
<circle cx="440.80" cy="650.30" r="1.65"/>
<circle cx="440.80" cy="661.50" r="1.65"/>
<circle cx="440.80" cy="664.00" r="1.65"/>
<circle cx="440.80" cy="665.00" r="1.65"/>
<circle cx="440.80" cy="666.30" r="1.65"/>
<circle cx="440.80" cy="667.30" r="1.65"/>
<circle cx="440.80" cy="668.30" r="1.65"/>
<circle cx="440.80" cy="669.60" r="1.65"/>
<circle cx="440.80" cy="670.10" r="1.65"/>
<circle cx="440.80" cy="670.90" r="1.65"/>
<circle cx="440.80" cy="672.00" r="1.65"/>
<circle cx="453.55" cy="653.20" r="1.65"/>
<circle cx="453.55" cy="666.20" r="1.65"/>
<circle cx="453.55" cy="667.00" r="1.65"/>
<circle cx="453.55" cy="668.00" r="1.65"/>
<circle cx="453.55" cy="668.50" r="1.65"/>
<circle cx="453.55" cy="669.30" r="1.65"/>
<circle cx="453.55" cy="670.60" r="1.65"/>
<circle cx="453.55" cy="671.60" r="1.65"/>
<circle cx="453.55" cy="672.00" r="1.65"/>
<circle cx="466.30" cy="665.60" r="1.65"/>
<circle cx="466.30" cy="666.10" r="1.65"/>
<circle cx="466.30" cy="666.60" r="1.65"/>
<circle cx="466.30" cy="667.60" r="1.65"/>
<circle cx="466.30" cy="668.40" r="1.65"/>
<circle cx="466.30" cy="669.20" r="1.65"/>
<circle cx="466.30" cy="670.00" r="1.65"/>
<circle cx="466.30" cy="671.30" r="1.65"/>
<circle cx="466.30" cy="672.00" r="1.65"/>
<circle cx="479.05" cy="642.50" r="1.65"/>
<circle cx="479.05" cy="660.70" r="1.65"/>
<circle cx="479.05" cy="663.50" r="1.65"/>
<circle cx="479.05" cy="664.00" r="1.65"/>
<circle cx="479.05" cy="665.30" r="1.65"/>
<circle cx="479.05" cy="665.80" r="1.65"/>
<circle cx="479.05" cy="666.30" r="1.65"/>
<circle cx="479.05" cy="667.10" r="1.65"/>
<circle cx="479.05" cy="668.40" r="1.65"/>
<circle cx="479.05" cy="668.90" r="1.65"/>
<circle cx="479.05" cy="669.40" r="1.65"/>
<circle cx="479.05" cy="669.90" r="1.65"/>
<circle cx="479.05" cy="670.70" r="1.65"/>
<circle cx="479.05" cy="672.00" r="1.65"/>
<circle cx="491.80" cy="667.40" r="1.65"/>
<circle cx="491.80" cy="668.40" r="1.65"/>
<circle cx="491.80" cy="669.70" r="1.65"/>
<circle cx="491.80" cy="671.00" r="1.65"/>
<circle cx="491.80" cy="671.50" r="1.65"/>
<circle cx="491.80" cy="672.00" r="1.65"/>
<circle cx="504.55" cy="663.60" r="1.65"/>
<circle cx="504.55" cy="670.50" r="1.65"/>
<circle cx="504.55" cy="671.00" r="1.65"/>
<circle cx="504.55" cy="672.00" r="1.65"/>
</g>
<line x1="79.00" y1="569.1" x2="88.60" y2="569.1" stroke="#000" stroke-width="1.7"/>
<line x1="91.75" y1="589.0" x2="101.35" y2="589.0" stroke="#000" stroke-width="1.7"/>
<line x1="104.50" y1="598.8" x2="114.10" y2="598.8" stroke="#000" stroke-width="1.7"/>
<line x1="117.25" y1="601.3" x2="126.85" y2="601.3" stroke="#000" stroke-width="1.7"/>
<line x1="130.00" y1="606.7" x2="139.60" y2="606.7" stroke="#000" stroke-width="1.7"/>
<line x1="142.75" y1="609.1" x2="152.35" y2="609.1" stroke="#000" stroke-width="1.7"/>
<line x1="155.50" y1="618.4" x2="165.10" y2="618.4" stroke="#000" stroke-width="1.7"/>
<line x1="168.25" y1="626.9" x2="177.85" y2="626.9" stroke="#000" stroke-width="1.7"/>
<line x1="181.00" y1="629.2" x2="190.60" y2="629.2" stroke="#000" stroke-width="1.7"/>
<line x1="193.75" y1="635.8" x2="203.35" y2="635.8" stroke="#000" stroke-width="1.7"/>
<line x1="206.50" y1="637.9" x2="216.10" y2="637.9" stroke="#000" stroke-width="1.7"/>
<line x1="219.25" y1="640.0" x2="228.85" y2="640.0" stroke="#000" stroke-width="1.7"/>
<line x1="232.00" y1="642.5" x2="241.60" y2="642.5" stroke="#000" stroke-width="1.7"/>
<line x1="244.75" y1="648.0" x2="254.35" y2="648.0" stroke="#000" stroke-width="1.7"/>
<line x1="257.50" y1="649.4" x2="267.10" y2="649.4" stroke="#000" stroke-width="1.7"/>
<line x1="270.25" y1="652.9" x2="279.85" y2="652.9" stroke="#000" stroke-width="1.7"/>
<line x1="283.00" y1="657.0" x2="292.60" y2="657.0" stroke="#000" stroke-width="1.7"/>
<line x1="295.75" y1="657.9" x2="305.35" y2="657.9" stroke="#000" stroke-width="1.7"/>
<line x1="308.50" y1="661.4" x2="318.10" y2="661.4" stroke="#000" stroke-width="1.7"/>
<line x1="321.25" y1="662.6" x2="330.85" y2="662.6" stroke="#000" stroke-width="1.7"/>
<line x1="334.00" y1="662.6" x2="343.60" y2="662.6" stroke="#000" stroke-width="1.7"/>
<line x1="346.75" y1="663.2" x2="356.35" y2="663.2" stroke="#000" stroke-width="1.7"/>
<line x1="359.50" y1="663.2" x2="369.10" y2="663.2" stroke="#000" stroke-width="1.7"/>
<line x1="372.25" y1="664.1" x2="381.85" y2="664.1" stroke="#000" stroke-width="1.7"/>
<line x1="385.00" y1="666.5" x2="394.60" y2="666.5" stroke="#000" stroke-width="1.7"/>
<line x1="397.75" y1="666.6" x2="407.35" y2="666.6" stroke="#000" stroke-width="1.7"/>
<line x1="410.50" y1="667.8" x2="420.10" y2="667.8" stroke="#000" stroke-width="1.7"/>
<line x1="423.25" y1="669.1" x2="432.85" y2="669.1" stroke="#000" stroke-width="1.7"/>
<line x1="436.00" y1="669.3" x2="445.60" y2="669.3" stroke="#000" stroke-width="1.7"/>
<line x1="448.75" y1="669.8" x2="458.35" y2="669.8" stroke="#000" stroke-width="1.7"/>
<line x1="461.50" y1="670.2" x2="471.10" y2="670.2" stroke="#000" stroke-width="1.7"/>
<line x1="474.25" y1="670.5" x2="483.85" y2="670.5" stroke="#000" stroke-width="1.7"/>
<line x1="487.00" y1="671.4" x2="496.60" y2="671.4" stroke="#000" stroke-width="1.7"/>
<line x1="499.75" y1="672.0" x2="509.35" y2="672.0" stroke="#000" stroke-width="1.7"/>
<rect x="75.8" y="713.3" width="116.50" height="17.9" fill="#000"/>
<rect x="204.9" y="713.3" width="64.00" height="17.9" fill="#000"/>
<rect x="295.1" y="713.3" width="13.40" height="17.9" fill="#000"/>
</svg></body></html>
